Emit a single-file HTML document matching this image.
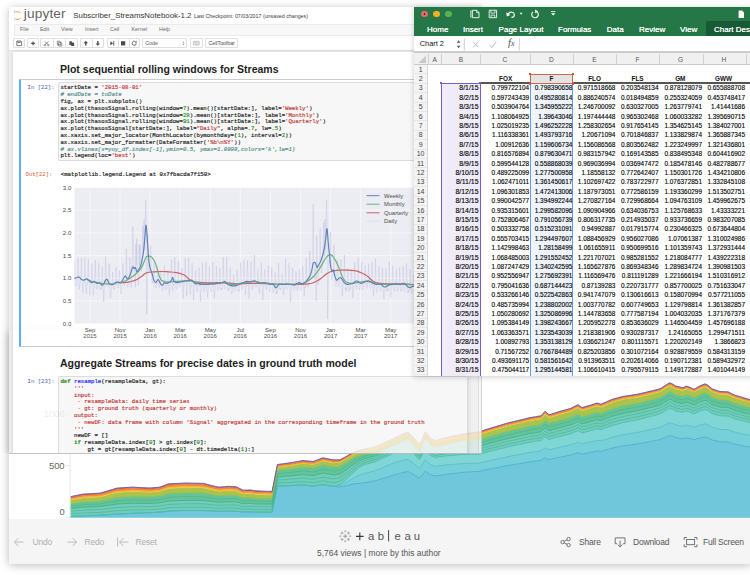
<!DOCTYPE html>
<html><head><meta charset="utf-8"><title>screenshot</title><style>
html,body{margin:0;padding:0;background:#fff;}
html{overflow:hidden}
body{width:750px;height:575px;overflow:hidden;position:relative;font-family:"Liberation Sans",sans-serif;}
#root{position:absolute;left:0;top:0;width:750px;height:575px;overflow:hidden;background:#fff}
.abs{position:absolute}
#tab{position:absolute;left:9px;top:330px;width:742px;height:234.2px;background:#fff;box-shadow:0 1px 9px rgba(0,0,0,.28);z-index:1;overflow:visible}
#tab > *{position:absolute}
.t-bar{left:0;top:189px;width:742px;height:45.2px;background:#f5f5f5}
#jup{position:absolute;left:9px;top:7px;width:473px;height:446.5px;background:#fff;z-index:2;overflow:hidden;opacity:.88;border-bottom:1px solid #bbb;border-right:1px solid #ccc;box-sizing:border-box}
#jup > *{position:absolute}
#jupshadow{position:absolute;left:9px;top:7px;width:473px;height:446px;box-shadow:0 1px 8px rgba(0,0,0,.24);z-index:1;clip-path:inset(-14px 0 0 -14px)}
.j-head{left:0;top:0;width:473px;height:43px;background:#fff;border-bottom:1px solid #e3e3e3}
.j-body{left:0;top:43.6px;width:473px;height:410px;background:#eeeeee}
.j-nb{left:4.3px;top:45.4px;width:454.6px;height:410px;background:#fff;box-shadow:0 0 4px rgba(87,87,87,.25)}
.j-scroll{left:469px;top:43.6px;width:4px;height:410px;background:#f7f7f7;border-left:1px solid #dcdcdc}
.j-btn{top:31.4px;height:9.4px;border:.8px solid #dcdcdc;border-radius:1px;background:#fff;box-sizing:border-box}
.j-prompt{font-family:"Liberation Mono",monospace;font-size:5.63px;line-height:6.8px;white-space:pre}
.j-in{background:#f7f7f7;border:.8px solid #d9d9d9;border-radius:1px;box-sizing:border-box}
.j-code{margin:0;font-family:"Liberation Mono",monospace;font-size:5.68px;line-height:6.8px;color:#000;white-space:pre;-webkit-text-stroke:.18px}
.j-code .s{color:#ba2121}.j-code .c{color:#408080;font-style:italic}.j-code .n{color:#008800}.j-code .k{color:#008000;font-weight:bold}.j-code .f{color:#0000ff}
#excel{position:absolute;left:414px;top:7px;width:340px;height:368.6px;background:#fff;z-index:3;box-shadow:0 1px 6px rgba(0,0,0,.2);overflow:hidden}
#excel > *{position:absolute}
.xl-green{left:0;top:0;width:340px;height:28.6px;background:#257748}
.xl-tabsel{left:292px;top:13.8px;width:50px;height:14.8px;background:#185a36;border-radius:2px 0 0 0}
.tl{top:3.7px;width:6.6px;height:6.6px;border-radius:50%}
.xl-tab{top:18.1px;font-size:8px;line-height:9px;color:#fff;white-space:nowrap;text-shadow:0 0 .4px #fff}
.xl-fbar{left:0;top:28.6px;width:340px;height:16px;background:#fff;border-bottom:1px solid #cfcfcf;box-sizing:border-box}
.xl-colhdr{left:0;top:44.6px;width:340px;height:13.8px;background:#f0f0f0;border-top:1.2px solid #c9c9d0;border-bottom:1px solid #cacaca;box-sizing:border-box}
.xl-cl{top:48.6px;width:20px;text-align:center;font-size:6.6px;line-height:8px;color:#555}
.xl-rn{left:0;width:13.2px;height:9.4px;line-height:9.6px;text-align:center;font-size:7px;color:#444}
.xl-c{height:9.39px;line-height:9.9px;text-align:right;font-size:6.45px;color:#000;white-space:nowrap;-webkit-text-stroke:.12px}
.xl-h{width:40px;height:9.39px;line-height:9.9px;text-align:center;font-size:6.4px;font-weight:bold;color:#111}
</style></head>
<body><div id="root">
<div id="tab">
<svg class="abs" style="left:0;top:0" width="742" height="200" viewBox="9 330 742 200">
<path d="M70.0 516.5L76.5 516.2L83.0 515.9L91.5 515.6L100.0 515.2L108.5 514.7L117.0 514.1L125.0 513.7L133.0 513.3L141.5 513.0L150.0 512.7L155.0 512.4L160.0 512.1L164.3 511.7L168.7 511.1L177.3 510.7L186.0 510.5L194.7 510.5L203.3 510.5L207.7 510.8L212.0 511.0L215.5 511.2L219.0 511.3L224.2 511.2L229.3 511.1L232.8 511.2L236.3 511.3L239.8 511.6L243.2 512.0L246.6 511.9L250.0 511.9L253.5 512.0L257.0 512.1L264.6 512.2L272.1 512.2L277.4 485.9L283.7 485.7L290.0 485.6L296.5 485.3L303.0 485.0L308.0 485.6L313.0 486.2L318.0 485.4L323.0 484.7L328.0 485.6L333.0 486.4L336.5 486.7L340.0 487.0L347.5 485.4L355.0 483.7L360.0 483.4L365.0 482.7L370.0 481.8L375.0 480.9L380.0 479.4L385.0 477.8L390.0 476.2L395.0 474.7L399.5 473.5L404.0 472.3L408.0 471.6L413.0 474.1L416.2 476.2L419.5 478.3L425.5 471.1L430.5 474.9L435.5 476.0L441.0 475.1L447.0 474.2L455.0 473.3L463.0 472.4L471.5 471.8L480.0 471.3L485.0 470.0L496.0 467.9L507.0 465.7L518.5 463.8L530.0 461.8L535.5 461.1L541.0 460.4L545.0 457.7L549.0 459.5L554.5 458.3L560.0 457.1L565.5 456.1L571.0 455.0L574.5 453.8L578.0 452.6L582.0 454.2L586.0 453.4L590.0 452.5L593.5 451.7L597.0 450.9L601.0 451.5L606.5 449.8L612.0 448.2L617.5 447.1L623.0 445.9L630.5 444.9L638.0 443.9L644.0 442.8L650.0 441.6L655.0 440.7L660.0 439.7L664.8 437.6L669.5 435.5L673.0 436.4L675.0 437.4L679.0 438.1L683.0 438.8L686.0 437.8L690.0 438.6L694.0 439.9L700.0 437.9L705.0 436.8L708.0 437.8L712.0 440.0L716.0 440.9L720.0 441.8L724.0 441.9L728.0 442.1L731.5 443.2L735.0 444.3L738.5 444.9L742.0 445.6L746.5 446.5L751.0 447.3L751.0 517.7L746.5 517.7L742.0 517.7L738.5 517.7L735.0 517.7L731.5 517.7L728.0 517.7L724.0 517.7L720.0 517.7L716.0 517.7L712.0 517.7L708.0 517.7L705.0 517.7L700.0 517.7L694.0 517.7L690.0 517.7L686.0 517.7L683.0 517.7L679.0 517.7L675.0 517.7L673.0 517.7L669.5 517.7L664.8 517.7L660.0 517.7L655.0 517.7L650.0 517.7L644.0 517.7L638.0 517.7L630.5 517.7L623.0 517.7L617.5 517.7L612.0 517.7L606.5 517.7L601.0 517.7L597.0 517.7L593.5 517.7L590.0 517.7L586.0 517.7L582.0 517.7L578.0 517.7L574.5 517.7L571.0 517.7L565.5 517.7L560.0 517.7L554.5 517.7L549.0 517.7L545.0 517.7L541.0 517.7L535.5 517.7L530.0 517.7L518.5 517.7L507.0 517.7L496.0 517.7L485.0 517.7L480.0 517.7L471.5 517.7L463.0 517.7L455.0 517.7L447.0 517.7L441.0 517.7L435.5 517.7L430.5 517.7L425.5 517.7L419.5 517.7L416.2 517.7L413.0 517.7L408.0 517.7L404.0 517.7L399.5 517.7L395.0 517.7L390.0 517.7L385.0 517.7L380.0 517.7L375.0 517.7L370.0 517.7L365.0 517.7L360.0 517.7L355.0 517.7L347.5 517.7L340.0 517.7L336.5 517.7L333.0 517.7L328.0 517.7L323.0 517.7L318.0 517.7L313.0 517.7L308.0 517.7L303.0 517.7L296.5 517.7L290.0 517.7L283.7 517.7L277.4 517.7L272.1 517.7L264.6 517.7L257.0 517.7L253.5 517.7L250.0 517.7L246.6 517.7L243.2 517.7L239.8 517.7L236.3 517.7L232.8 517.7L229.3 517.7L224.2 517.7L219.0 517.7L215.5 517.7L212.0 517.7L207.7 517.7L203.3 517.7L194.7 517.7L186.0 517.7L177.3 517.7L168.7 517.7L164.3 517.7L160.0 517.7L155.0 517.7L150.0 517.7L141.5 517.7L133.0 517.7L125.0 517.7L117.0 517.7L108.5 517.7L100.0 517.7L91.5 517.7L83.0 517.7L76.5 517.7L70.0 517.7Z" fill="#70c7dc" stroke="#70c7dc" stroke-width=".3"/>
<path d="M70.0 516.5L76.5 516.2L83.0 515.9L91.5 515.6L100.0 515.2L108.5 514.7L117.0 514.1L125.0 513.7L133.0 513.3L141.5 513.0L150.0 512.7L155.0 512.4L160.0 512.1L164.3 511.7L168.7 511.1L177.3 510.7L186.0 510.5L194.7 510.5L203.3 510.5L207.7 510.8L212.0 511.0L215.5 511.2L219.0 511.3L224.2 511.2L229.3 511.1L232.8 511.2L236.3 511.3L239.8 511.6L243.2 512.0L246.6 511.9L250.0 511.9L253.5 512.0L257.0 512.1L264.6 512.2L272.1 512.2L277.4 485.9L283.7 485.7L290.0 485.6L296.5 485.3L303.0 485.0L308.0 485.6L313.0 486.2L318.0 485.4L323.0 484.7L328.0 485.6L333.0 486.4L336.5 486.2L340.0 485.5L347.5 481.5L355.0 477.1L360.0 475.0L365.0 473.3L370.0 472.1L375.0 470.8L380.0 468.8L385.0 466.7L390.0 464.5L395.0 462.5L399.5 461.2L404.0 460.0L408.0 459.3L413.0 462.8L416.2 465.6L419.5 468.4L425.5 459.8L430.5 464.8L435.5 466.4L441.0 465.6L447.0 464.9L455.0 464.2L463.0 463.5L471.5 463.3L480.0 463.2L485.0 461.7L496.0 459.3L507.0 456.8L518.5 454.6L530.0 452.4L535.5 451.6L541.0 450.9L545.0 447.8L549.0 449.9L554.5 448.6L560.0 447.2L565.5 446.0L571.0 444.8L574.5 443.5L578.0 442.1L582.0 444.0L586.0 443.0L590.0 442.1L593.5 441.2L597.0 440.3L601.0 440.9L606.5 439.1L612.0 437.3L617.5 436.0L623.0 434.7L630.5 433.5L638.0 432.3L644.0 431.0L650.0 429.7L655.0 428.5L660.0 427.4L664.8 425.0L669.5 422.6L673.0 423.6L675.0 424.7L679.0 425.5L683.0 426.3L686.0 425.0L690.0 426.0L694.0 427.5L700.0 425.1L705.0 423.8L708.0 424.9L712.0 427.4L716.0 428.4L720.0 429.4L724.0 429.6L728.0 429.7L731.5 431.0L735.0 432.2L738.5 433.0L742.0 433.8L746.5 434.7L751.0 435.6L751.0 447.3L746.5 446.5L742.0 445.6L738.5 444.9L735.0 444.3L731.5 443.2L728.0 442.1L724.0 441.9L720.0 441.8L716.0 440.9L712.0 440.0L708.0 437.8L705.0 436.8L700.0 437.9L694.0 439.9L690.0 438.6L686.0 437.8L683.0 438.8L679.0 438.1L675.0 437.4L673.0 436.4L669.5 435.5L664.8 437.6L660.0 439.7L655.0 440.7L650.0 441.6L644.0 442.8L638.0 443.9L630.5 444.9L623.0 445.9L617.5 447.1L612.0 448.2L606.5 449.8L601.0 451.5L597.0 450.9L593.5 451.7L590.0 452.5L586.0 453.4L582.0 454.2L578.0 452.6L574.5 453.8L571.0 455.0L565.5 456.1L560.0 457.1L554.5 458.3L549.0 459.5L545.0 457.7L541.0 460.4L535.5 461.1L530.0 461.8L518.5 463.8L507.0 465.7L496.0 467.9L485.0 470.0L480.0 471.3L471.5 471.8L463.0 472.4L455.0 473.3L447.0 474.2L441.0 475.1L435.5 476.0L430.5 474.9L425.5 471.1L419.5 478.3L416.2 476.2L413.0 474.1L408.0 471.6L404.0 472.3L399.5 473.5L395.0 474.7L390.0 476.2L385.0 477.8L380.0 479.4L375.0 480.9L370.0 481.8L365.0 482.7L360.0 483.4L355.0 483.7L347.5 485.4L340.0 487.0L336.5 486.7L333.0 486.4L328.0 485.6L323.0 484.7L318.0 485.4L313.0 486.2L308.0 485.6L303.0 485.0L296.5 485.3L290.0 485.6L283.7 485.7L277.4 485.9L272.1 512.2L264.6 512.2L257.0 512.1L253.5 512.0L250.0 511.9L246.6 511.9L243.2 512.0L239.8 511.6L236.3 511.3L232.8 511.2L229.3 511.1L224.2 511.2L219.0 511.3L215.5 511.2L212.0 511.0L207.7 510.8L203.3 510.5L194.7 510.5L186.0 510.5L177.3 510.7L168.7 511.1L164.3 511.7L160.0 512.1L155.0 512.4L150.0 512.7L141.5 513.0L133.0 513.3L125.0 513.7L117.0 514.1L108.5 514.7L100.0 515.2L91.5 515.6L83.0 515.9L76.5 516.2L70.0 516.5Z" fill="#77cfd9" stroke="#77cfd9" stroke-width=".3"/>
<path d="M70.0 516.5L76.5 516.2L83.0 515.9L91.5 515.6L100.0 515.2L108.5 514.7L117.0 514.1L125.0 513.7L133.0 513.3L141.5 513.0L150.0 512.7L155.0 512.4L160.0 512.1L164.3 511.7L168.7 511.1L177.3 510.7L186.0 510.5L194.7 510.5L203.3 510.5L207.7 510.8L212.0 511.0L215.5 511.2L219.0 511.3L224.2 511.2L229.3 511.1L232.8 511.2L236.3 511.3L239.8 511.6L243.2 512.0L246.6 511.9L250.0 511.9L253.5 512.0L257.0 512.1L264.6 512.2L272.1 512.2L277.4 485.9L283.7 485.7L290.0 485.6L296.5 485.3L303.0 485.0L308.0 485.6L313.0 486.2L318.0 485.4L323.0 484.7L328.0 485.6L333.0 486.4L336.5 485.9L340.0 484.4L347.5 478.2L355.0 471.0L360.0 466.9L365.0 464.4L370.0 463.1L375.0 461.8L380.0 459.5L385.0 457.2L390.0 454.8L395.0 452.6L399.5 451.1L404.0 449.7L408.0 448.9L413.0 453.1L416.2 456.4L419.5 459.7L425.5 449.7L430.5 455.6L435.5 457.5L441.0 456.6L447.0 455.8L455.0 455.1L463.0 454.4L471.5 454.3L480.0 454.2L485.0 452.6L496.0 449.8L507.0 447.1L518.5 444.6L530.0 442.2L535.5 441.3L541.0 440.5L545.0 436.9L549.0 439.5L554.5 437.9L560.0 436.4L565.5 435.1L571.0 433.8L574.5 432.2L578.0 430.7L582.0 432.9L586.0 431.9L590.0 430.8L593.5 429.8L597.0 428.8L601.0 429.6L606.5 427.5L612.0 425.5L617.5 424.1L623.0 422.6L630.5 421.2L638.0 419.7L644.0 418.2L650.0 416.6L655.0 415.3L660.0 413.9L664.8 411.1L669.5 408.3L673.0 409.4L675.0 410.7L679.0 411.6L683.0 412.4L686.0 411.0L690.0 412.1L694.0 413.8L700.0 411.0L705.0 409.4L708.0 410.7L712.0 413.5L716.0 414.7L720.0 415.8L724.0 415.9L728.0 416.1L731.5 417.5L735.0 418.9L738.5 419.8L742.0 420.7L746.5 421.7L751.0 422.8L751.0 435.6L746.5 434.7L742.0 433.8L738.5 433.0L735.0 432.2L731.5 431.0L728.0 429.7L724.0 429.6L720.0 429.4L716.0 428.4L712.0 427.4L708.0 424.9L705.0 423.8L700.0 425.1L694.0 427.5L690.0 426.0L686.0 425.0L683.0 426.3L679.0 425.5L675.0 424.7L673.0 423.6L669.5 422.6L664.8 425.0L660.0 427.4L655.0 428.5L650.0 429.7L644.0 431.0L638.0 432.3L630.5 433.5L623.0 434.7L617.5 436.0L612.0 437.3L606.5 439.1L601.0 440.9L597.0 440.3L593.5 441.2L590.0 442.1L586.0 443.0L582.0 444.0L578.0 442.1L574.5 443.5L571.0 444.8L565.5 446.0L560.0 447.2L554.5 448.6L549.0 449.9L545.0 447.8L541.0 450.9L535.5 451.6L530.0 452.4L518.5 454.6L507.0 456.8L496.0 459.3L485.0 461.7L480.0 463.2L471.5 463.3L463.0 463.5L455.0 464.2L447.0 464.9L441.0 465.6L435.5 466.4L430.5 464.8L425.5 459.8L419.5 468.4L416.2 465.6L413.0 462.8L408.0 459.3L404.0 460.0L399.5 461.2L395.0 462.5L390.0 464.5L385.0 466.7L380.0 468.8L375.0 470.8L370.0 472.1L365.0 473.3L360.0 475.0L355.0 477.1L347.5 481.5L340.0 485.5L336.5 486.2L333.0 486.4L328.0 485.6L323.0 484.7L318.0 485.4L313.0 486.2L308.0 485.6L303.0 485.0L296.5 485.3L290.0 485.6L283.7 485.7L277.4 485.9L272.1 512.2L264.6 512.2L257.0 512.1L253.5 512.0L250.0 511.9L246.6 511.9L243.2 512.0L239.8 511.6L236.3 511.3L232.8 511.2L229.3 511.1L224.2 511.2L219.0 511.3L215.5 511.2L212.0 511.0L207.7 510.8L203.3 510.5L194.7 510.5L186.0 510.5L177.3 510.7L168.7 511.1L164.3 511.7L160.0 512.1L155.0 512.4L150.0 512.7L141.5 513.0L133.0 513.3L125.0 513.7L117.0 514.1L108.5 514.7L100.0 515.2L91.5 515.6L83.0 515.9L76.5 516.2L70.0 516.5Z" fill="#80d6d5" stroke="#80d6d5" stroke-width=".3"/>
<path d="M70.0 508.6L76.5 507.9L83.0 507.2L91.5 506.9L100.0 506.6L108.5 505.3L117.0 504.0L125.0 503.6L133.0 503.3L141.5 503.4L150.0 503.4L155.0 503.1L160.0 502.8L164.3 501.9L168.7 501.1L177.3 500.7L186.0 500.4L194.7 500.4L203.3 500.4L207.7 501.0L212.0 501.6L215.5 501.9L219.0 502.2L224.2 502.0L229.3 501.7L232.8 501.8L236.3 501.9L239.8 502.8L243.2 503.6L246.6 503.5L250.0 503.4L253.5 503.7L257.0 503.9L264.6 504.0L272.1 504.1L277.4 476.9L283.7 476.4L290.0 475.9L296.5 475.3L303.0 474.6L308.0 475.1L313.0 475.6L318.0 474.4L323.0 473.1L328.0 474.0L333.0 474.9L336.5 474.7L340.0 474.0L347.5 469.0L355.0 463.2L360.0 460.3L365.0 458.3L370.0 457.2L375.0 456.0L380.0 453.8L385.0 451.5L390.0 449.2L395.0 447.0L399.5 445.3L404.0 443.6L408.0 442.6L413.0 447.0L416.2 450.6L419.5 454.2L425.5 443.0L430.5 449.3L435.5 451.3L441.0 450.2L447.0 449.1L455.0 448.1L463.0 447.1L471.5 446.7L480.0 446.3L485.0 444.6L496.0 441.6L507.0 438.7L518.5 436.1L530.0 433.5L535.5 432.6L541.0 431.8L545.0 427.9L549.0 430.8L554.5 429.2L560.0 427.6L565.5 426.2L571.0 424.8L574.5 423.1L578.0 421.5L582.0 423.9L586.0 422.9L590.0 421.8L593.5 420.7L597.0 419.7L601.0 420.6L606.5 418.4L612.0 416.2L617.5 414.8L623.0 413.3L630.5 412.0L638.0 410.6L644.0 409.1L650.0 407.6L655.0 406.3L660.0 404.9L664.8 402.1L669.5 399.2L673.0 400.4L675.0 401.8L679.0 402.7L683.0 403.7L686.0 402.1L690.0 403.3L694.0 405.0L700.0 402.0L705.0 400.3L708.0 401.6L712.0 404.7L716.0 405.9L720.0 407.1L724.0 407.3L728.0 407.4L731.5 409.0L735.0 410.5L738.5 411.4L742.0 412.4L746.5 413.5L751.0 414.6L751.0 422.8L746.5 421.7L742.0 420.7L738.5 419.8L735.0 418.9L731.5 417.5L728.0 416.1L724.0 415.9L720.0 415.8L716.0 414.7L712.0 413.5L708.0 410.7L705.0 409.4L700.0 411.0L694.0 413.8L690.0 412.1L686.0 411.0L683.0 412.4L679.0 411.6L675.0 410.7L673.0 409.4L669.5 408.3L664.8 411.1L660.0 413.9L655.0 415.3L650.0 416.6L644.0 418.2L638.0 419.7L630.5 421.2L623.0 422.6L617.5 424.1L612.0 425.5L606.5 427.5L601.0 429.6L597.0 428.8L593.5 429.8L590.0 430.8L586.0 431.9L582.0 432.9L578.0 430.7L574.5 432.2L571.0 433.8L565.5 435.1L560.0 436.4L554.5 437.9L549.0 439.5L545.0 436.9L541.0 440.5L535.5 441.3L530.0 442.2L518.5 444.6L507.0 447.1L496.0 449.8L485.0 452.6L480.0 454.2L471.5 454.3L463.0 454.4L455.0 455.1L447.0 455.8L441.0 456.6L435.5 457.5L430.5 455.6L425.5 449.7L419.5 459.7L416.2 456.4L413.0 453.1L408.0 448.9L404.0 449.7L399.5 451.1L395.0 452.6L390.0 454.8L385.0 457.2L380.0 459.5L375.0 461.8L370.0 463.1L365.0 464.4L360.0 466.9L355.0 471.0L347.5 478.2L340.0 484.4L336.5 485.9L333.0 486.4L328.0 485.6L323.0 484.7L318.0 485.4L313.0 486.2L308.0 485.6L303.0 485.0L296.5 485.3L290.0 485.6L283.7 485.7L277.4 485.9L272.1 512.2L264.6 512.2L257.0 512.1L253.5 512.0L250.0 511.9L246.6 511.9L243.2 512.0L239.8 511.6L236.3 511.3L232.8 511.2L229.3 511.1L224.2 511.2L219.0 511.3L215.5 511.2L212.0 511.0L207.7 510.8L203.3 510.5L194.7 510.5L186.0 510.5L177.3 510.7L168.7 511.1L164.3 511.7L160.0 512.1L155.0 512.4L150.0 512.7L141.5 513.0L133.0 513.3L125.0 513.7L117.0 514.1L108.5 514.7L100.0 515.2L91.5 515.6L83.0 515.9L76.5 516.2L70.0 516.5Z" fill="#70cdbb" stroke="#70cdbb" stroke-width=".3"/>
<path d="M70.0 504.0L76.5 503.1L83.0 502.1L91.5 501.6L100.0 501.2L108.5 499.4L117.0 497.5L125.0 497.1L133.0 496.6L141.5 496.8L150.0 496.9L155.0 496.5L160.0 496.1L164.3 494.9L168.7 493.6L177.3 493.2L186.0 492.9L194.7 493.0L203.3 493.1L207.7 493.9L212.0 494.8L215.5 495.3L219.0 495.8L224.2 495.5L229.3 495.2L232.8 495.4L236.3 495.6L239.8 496.8L243.2 498.0L246.6 497.9L250.0 497.8L253.5 498.2L257.0 498.5L264.6 498.7L272.1 498.9L277.4 470.5L283.7 469.8L290.0 469.1L296.5 468.2L303.0 467.2L308.0 467.7L313.0 468.2L318.0 466.6L323.0 465.0L328.0 466.0L333.0 466.9L336.5 466.8L340.0 466.3L347.5 461.7L355.0 457.1L360.0 455.2L365.0 453.6L370.0 452.5L375.0 451.5L380.0 449.3L385.0 447.0L390.0 444.8L395.0 442.6L399.5 440.6L404.0 438.7L408.0 437.6L413.0 442.2L416.2 445.9L419.5 449.7L425.5 437.5L430.5 444.2L435.5 446.2L441.0 444.9L447.0 443.6L455.0 442.3L463.0 441.0L471.5 440.3L480.0 439.7L485.0 437.8L496.0 434.7L507.0 431.6L518.5 429.0L530.0 426.3L535.5 425.5L541.0 424.6L545.0 420.4L549.0 423.6L554.5 421.9L560.0 420.3L565.5 418.9L571.0 417.4L574.5 415.7L578.0 414.0L582.0 416.7L586.0 415.6L590.0 414.5L593.5 413.4L597.0 412.3L601.0 413.4L606.5 411.1L612.0 408.8L617.5 407.4L623.0 405.9L630.5 404.6L638.0 403.3L644.0 401.8L650.0 400.3L655.0 399.0L660.0 397.6L664.8 394.7L669.5 391.7L673.0 393.0L675.0 394.5L679.0 395.5L683.0 396.4L686.0 394.7L690.0 396.0L694.0 397.8L700.0 394.6L705.0 392.7L708.0 394.1L712.0 397.4L716.0 398.7L720.0 400.0L724.0 400.1L728.0 400.3L731.5 401.9L735.0 403.5L738.5 404.5L742.0 405.5L746.5 406.6L751.0 407.8L751.0 414.6L746.5 413.5L742.0 412.4L738.5 411.4L735.0 410.5L731.5 409.0L728.0 407.4L724.0 407.3L720.0 407.1L716.0 405.9L712.0 404.7L708.0 401.6L705.0 400.3L700.0 402.0L694.0 405.0L690.0 403.3L686.0 402.1L683.0 403.7L679.0 402.7L675.0 401.8L673.0 400.4L669.5 399.2L664.8 402.1L660.0 404.9L655.0 406.3L650.0 407.6L644.0 409.1L638.0 410.6L630.5 412.0L623.0 413.3L617.5 414.8L612.0 416.2L606.5 418.4L601.0 420.6L597.0 419.7L593.5 420.7L590.0 421.8L586.0 422.9L582.0 423.9L578.0 421.5L574.5 423.1L571.0 424.8L565.5 426.2L560.0 427.6L554.5 429.2L549.0 430.8L545.0 427.9L541.0 431.8L535.5 432.6L530.0 433.5L518.5 436.1L507.0 438.7L496.0 441.6L485.0 444.6L480.0 446.3L471.5 446.7L463.0 447.1L455.0 448.1L447.0 449.1L441.0 450.2L435.5 451.3L430.5 449.3L425.5 443.0L419.5 454.2L416.2 450.6L413.0 447.0L408.0 442.6L404.0 443.6L399.5 445.3L395.0 447.0L390.0 449.2L385.0 451.5L380.0 453.8L375.0 456.0L370.0 457.2L365.0 458.3L360.0 460.3L355.0 463.2L347.5 469.0L340.0 474.0L336.5 474.7L333.0 474.9L328.0 474.0L323.0 473.1L318.0 474.4L313.0 475.6L308.0 475.1L303.0 474.6L296.5 475.3L290.0 475.9L283.7 476.4L277.4 476.9L272.1 504.1L264.6 504.0L257.0 503.9L253.5 503.7L250.0 503.4L246.6 503.5L243.2 503.6L239.8 502.8L236.3 501.9L232.8 501.8L229.3 501.7L224.2 502.0L219.0 502.2L215.5 501.9L212.0 501.6L207.7 501.0L203.3 500.4L194.7 500.4L186.0 500.4L177.3 500.7L168.7 501.1L164.3 501.9L160.0 502.8L155.0 503.1L150.0 503.4L141.5 503.4L133.0 503.3L125.0 503.6L117.0 504.0L108.5 505.3L100.0 506.6L91.5 506.9L83.0 507.2L76.5 507.9L70.0 508.6Z" fill="#63c49a" stroke="#63c49a" stroke-width=".3"/>
<path d="M70.0 500.3L76.5 499.1L83.0 498.0L91.5 497.5L100.0 497.0L108.5 494.8L117.0 492.6L125.0 492.1L133.0 491.6L141.5 492.0L150.0 492.3L155.0 491.8L160.0 491.4L164.3 490.0L168.7 488.5L177.3 488.1L186.0 487.7L194.7 487.8L203.3 487.9L207.7 489.0L212.0 490.0L215.5 490.6L219.0 491.3L224.2 490.9L229.3 490.6L232.8 490.8L236.3 491.0L239.8 492.5L243.2 493.9L246.6 493.8L250.0 493.7L253.5 494.1L257.0 494.6L264.6 494.8L272.1 495.0L277.4 467.4L283.7 466.5L290.0 465.7L296.5 464.6L303.0 463.6L308.0 464.0L313.0 464.5L318.0 462.7L323.0 461.0L328.0 461.9L333.0 462.9L336.5 462.8L340.0 462.6L347.5 458.2L355.0 453.9L360.0 452.3L365.0 450.9L370.0 449.8L375.0 448.7L380.0 446.3L385.0 444.0L390.0 441.7L395.0 439.4L399.5 437.3L404.0 435.2L408.0 434.0L413.0 438.7L416.2 442.5L419.5 446.4L425.5 433.6L430.5 440.5L435.5 442.5L441.0 441.0L447.0 439.6L455.0 438.0L463.0 436.5L471.5 435.7L480.0 434.8L485.0 432.9L496.0 429.6L507.0 426.3L518.5 423.6L530.0 420.8L535.5 419.9L541.0 418.9L545.0 414.5L549.0 417.9L554.5 416.2L560.0 414.4L565.5 412.9L571.0 411.4L574.5 409.6L578.0 407.8L582.0 410.7L586.0 409.5L590.0 408.4L593.5 407.2L597.0 406.1L601.0 407.2L606.5 404.9L612.0 402.5L617.5 401.0L623.0 399.5L630.5 398.3L638.0 397.2L644.0 395.8L650.0 394.4L655.0 393.1L660.0 391.9L664.8 388.9L669.5 385.9L673.0 387.3L675.0 388.9L679.0 389.9L683.0 390.8L686.0 389.1L690.0 390.3L694.0 392.3L700.0 388.9L705.0 386.9L708.0 388.4L712.0 391.8L716.0 393.1L720.0 394.4L724.0 394.6L728.0 394.7L731.5 396.4L735.0 398.1L738.5 399.1L742.0 400.1L746.5 401.3L751.0 402.6L751.0 407.8L746.5 406.6L742.0 405.5L738.5 404.5L735.0 403.5L731.5 401.9L728.0 400.3L724.0 400.1L720.0 400.0L716.0 398.7L712.0 397.4L708.0 394.1L705.0 392.7L700.0 394.6L694.0 397.8L690.0 396.0L686.0 394.7L683.0 396.4L679.0 395.5L675.0 394.5L673.0 393.0L669.5 391.7L664.8 394.7L660.0 397.6L655.0 399.0L650.0 400.3L644.0 401.8L638.0 403.3L630.5 404.6L623.0 405.9L617.5 407.4L612.0 408.8L606.5 411.1L601.0 413.4L597.0 412.3L593.5 413.4L590.0 414.5L586.0 415.6L582.0 416.7L578.0 414.0L574.5 415.7L571.0 417.4L565.5 418.9L560.0 420.3L554.5 421.9L549.0 423.6L545.0 420.4L541.0 424.6L535.5 425.5L530.0 426.3L518.5 429.0L507.0 431.6L496.0 434.7L485.0 437.8L480.0 439.7L471.5 440.3L463.0 441.0L455.0 442.3L447.0 443.6L441.0 444.9L435.5 446.2L430.5 444.2L425.5 437.5L419.5 449.7L416.2 445.9L413.0 442.2L408.0 437.6L404.0 438.7L399.5 440.6L395.0 442.6L390.0 444.8L385.0 447.0L380.0 449.3L375.0 451.5L370.0 452.5L365.0 453.6L360.0 455.2L355.0 457.1L347.5 461.7L340.0 466.3L336.5 466.8L333.0 466.9L328.0 466.0L323.0 465.0L318.0 466.6L313.0 468.2L308.0 467.7L303.0 467.2L296.5 468.2L290.0 469.1L283.7 469.8L277.4 470.5L272.1 498.9L264.6 498.7L257.0 498.5L253.5 498.2L250.0 497.8L246.6 497.9L243.2 498.0L239.8 496.8L236.3 495.6L232.8 495.4L229.3 495.2L224.2 495.5L219.0 495.8L215.5 495.3L212.0 494.8L207.7 493.9L203.3 493.1L194.7 493.0L186.0 492.9L177.3 493.2L168.7 493.6L164.3 494.9L160.0 496.1L155.0 496.5L150.0 496.9L141.5 496.8L133.0 496.6L125.0 497.1L117.0 497.5L108.5 499.4L100.0 501.2L91.5 501.6L83.0 502.1L76.5 503.1L70.0 504.0Z" fill="#a9c44c" stroke="#a9c44c" stroke-width=".3"/>
<path d="M70.0 499.3L76.5 498.0L83.0 496.8L91.5 496.3L100.0 495.8L108.5 493.5L117.0 491.2L125.0 490.7L133.0 490.2L141.5 490.6L150.0 490.9L155.0 490.5L160.0 490.0L164.3 488.5L168.7 487.0L177.3 486.5L186.0 486.1L194.7 486.3L203.3 486.4L207.7 487.5L212.0 488.6L215.5 489.2L219.0 489.9L224.2 489.5L229.3 489.2L232.8 489.4L236.3 489.6L239.8 491.2L243.2 492.7L246.6 492.6L250.0 492.4L253.5 492.9L257.0 493.4L264.6 493.6L272.1 493.8L277.4 466.6L283.7 465.7L290.0 464.9L296.5 463.8L303.0 462.7L308.0 463.2L313.0 463.7L318.0 461.9L323.0 460.1L328.0 461.1L333.0 462.0L336.5 462.0L340.0 461.8L347.5 457.4L355.0 453.1L360.0 451.6L365.0 450.2L370.0 449.1L375.0 448.1L380.0 445.8L385.0 443.5L390.0 441.2L395.0 438.9L399.5 436.8L404.0 434.6L408.0 433.4L413.0 438.1L416.2 441.9L419.5 445.8L425.5 432.9L430.5 439.8L435.5 441.8L441.0 440.3L447.0 438.8L455.0 437.2L463.0 435.6L471.5 434.7L480.0 433.8L485.0 431.8L496.0 428.5L507.0 425.3L518.5 422.5L530.0 419.7L535.5 418.8L541.0 417.9L545.0 413.4L549.0 416.8L554.5 415.1L560.0 413.4L565.5 411.9L571.0 410.4L574.5 408.5L578.0 406.7L582.0 409.6L586.0 408.5L590.0 407.3L593.5 406.2L597.0 405.0L601.0 406.2L606.5 403.8L612.0 401.4L617.5 399.9L623.0 398.4L630.5 397.2L638.0 396.1L644.0 394.7L650.0 393.3L655.0 392.1L660.0 390.8L664.8 387.8L669.5 384.9L673.0 386.3L675.0 387.8L679.0 388.8L683.0 389.8L686.0 388.0L690.0 389.3L694.0 391.3L700.0 387.8L705.0 385.9L708.0 387.3L712.0 390.8L716.0 392.1L720.0 393.5L724.0 393.6L728.0 393.7L731.5 395.4L735.0 397.1L738.5 398.1L742.0 399.2L746.5 400.4L751.0 401.6L751.0 402.6L746.5 401.3L742.0 400.1L738.5 399.1L735.0 398.1L731.5 396.4L728.0 394.7L724.0 394.6L720.0 394.4L716.0 393.1L712.0 391.8L708.0 388.4L705.0 386.9L700.0 388.9L694.0 392.3L690.0 390.3L686.0 389.1L683.0 390.8L679.0 389.9L675.0 388.9L673.0 387.3L669.5 385.9L664.8 388.9L660.0 391.9L655.0 393.1L650.0 394.4L644.0 395.8L638.0 397.2L630.5 398.3L623.0 399.5L617.5 401.0L612.0 402.5L606.5 404.9L601.0 407.2L597.0 406.1L593.5 407.2L590.0 408.4L586.0 409.5L582.0 410.7L578.0 407.8L574.5 409.6L571.0 411.4L565.5 412.9L560.0 414.4L554.5 416.2L549.0 417.9L545.0 414.5L541.0 418.9L535.5 419.9L530.0 420.8L518.5 423.6L507.0 426.3L496.0 429.6L485.0 432.9L480.0 434.8L471.5 435.7L463.0 436.5L455.0 438.0L447.0 439.6L441.0 441.0L435.5 442.5L430.5 440.5L425.5 433.6L419.5 446.4L416.2 442.5L413.0 438.7L408.0 434.0L404.0 435.2L399.5 437.3L395.0 439.4L390.0 441.7L385.0 444.0L380.0 446.3L375.0 448.7L370.0 449.8L365.0 450.9L360.0 452.3L355.0 453.9L347.5 458.2L340.0 462.6L336.5 462.8L333.0 462.9L328.0 461.9L323.0 461.0L318.0 462.7L313.0 464.5L308.0 464.0L303.0 463.6L296.5 464.6L290.0 465.7L283.7 466.5L277.4 467.4L272.1 495.0L264.6 494.8L257.0 494.6L253.5 494.1L250.0 493.7L246.6 493.8L243.2 493.9L239.8 492.5L236.3 491.0L232.8 490.8L229.3 490.6L224.2 490.9L219.0 491.3L215.5 490.6L212.0 490.0L207.7 489.0L203.3 487.9L194.7 487.8L186.0 487.7L177.3 488.1L168.7 488.5L164.3 490.0L160.0 491.4L155.0 491.8L150.0 492.3L141.5 492.0L133.0 491.6L125.0 492.1L117.0 492.6L108.5 494.8L100.0 497.0L91.5 497.5L83.0 498.0L76.5 499.1L70.0 500.3Z" fill="#f0c232" stroke="#f0c232" stroke-width=".3"/>
<path d="M70.0 497.8L76.5 496.5L83.0 495.2L91.5 494.7L100.0 494.2L108.5 491.8L117.0 489.4L125.0 488.8L133.0 488.3L141.5 488.8L150.0 489.2L155.0 488.7L160.0 488.3L164.3 486.7L168.7 485.0L177.3 484.6L186.0 484.2L194.7 484.4L203.3 484.5L207.7 485.7L212.0 486.9L215.5 487.5L219.0 488.2L224.2 487.8L229.3 487.4L232.8 487.7L236.3 487.9L239.8 489.6L243.2 491.2L246.6 491.1L250.0 490.9L253.5 491.4L257.0 491.9L264.6 492.1L272.1 492.4L277.4 465.4L283.7 464.6L290.0 463.7L296.5 462.6L303.0 461.4L308.0 461.9L313.0 462.4L318.0 460.6L323.0 458.8L328.0 459.8L333.0 460.8L336.5 460.7L340.0 460.7L347.5 456.4L355.0 452.2L360.0 450.8L365.0 449.4L370.0 448.4L375.0 447.4L380.0 445.1L385.0 442.8L390.0 440.6L395.0 438.3L399.5 436.1L404.0 434.0L408.0 432.7L413.0 437.4L416.2 441.3L419.5 445.2L425.5 432.0L430.5 439.0L435.5 441.0L441.0 439.4L447.0 437.9L455.0 436.2L463.0 434.5L471.5 433.6L480.0 432.6L485.0 430.6L496.0 427.3L507.0 424.0L518.5 421.2L530.0 418.4L535.5 417.5L541.0 416.6L545.0 412.1L549.0 415.6L554.5 413.9L560.0 412.1L565.5 410.6L571.0 409.1L574.5 407.3L578.0 405.4L582.0 408.4L586.0 407.3L590.0 406.1L593.5 405.0L597.0 403.8L601.0 405.0L606.5 402.6L612.0 400.2L617.5 398.7L623.0 397.2L630.5 396.1L638.0 394.9L644.0 393.5L650.0 392.1L655.0 390.9L660.0 389.6L664.8 386.7L669.5 383.7L673.0 385.1L675.0 386.7L679.0 387.6L683.0 388.6L686.0 386.9L690.0 388.1L694.0 390.1L700.0 386.7L705.0 384.7L708.0 386.2L712.0 389.6L716.0 391.0L720.0 392.3L724.0 392.5L728.0 392.6L731.5 394.3L735.0 396.0L738.5 397.1L742.0 398.1L746.5 399.3L751.0 400.6L751.0 401.6L746.5 400.4L742.0 399.2L738.5 398.1L735.0 397.1L731.5 395.4L728.0 393.7L724.0 393.6L720.0 393.5L716.0 392.1L712.0 390.8L708.0 387.3L705.0 385.9L700.0 387.8L694.0 391.3L690.0 389.3L686.0 388.0L683.0 389.8L679.0 388.8L675.0 387.8L673.0 386.3L669.5 384.9L664.8 387.8L660.0 390.8L655.0 392.1L650.0 393.3L644.0 394.7L638.0 396.1L630.5 397.2L623.0 398.4L617.5 399.9L612.0 401.4L606.5 403.8L601.0 406.2L597.0 405.0L593.5 406.2L590.0 407.3L586.0 408.5L582.0 409.6L578.0 406.7L574.5 408.5L571.0 410.4L565.5 411.9L560.0 413.4L554.5 415.1L549.0 416.8L545.0 413.4L541.0 417.9L535.5 418.8L530.0 419.7L518.5 422.5L507.0 425.3L496.0 428.5L485.0 431.8L480.0 433.8L471.5 434.7L463.0 435.6L455.0 437.2L447.0 438.8L441.0 440.3L435.5 441.8L430.5 439.8L425.5 432.9L419.5 445.8L416.2 441.9L413.0 438.1L408.0 433.4L404.0 434.6L399.5 436.8L395.0 438.9L390.0 441.2L385.0 443.5L380.0 445.8L375.0 448.1L370.0 449.1L365.0 450.2L360.0 451.6L355.0 453.1L347.5 457.4L340.0 461.8L336.5 462.0L333.0 462.0L328.0 461.1L323.0 460.1L318.0 461.9L313.0 463.7L308.0 463.2L303.0 462.7L296.5 463.8L290.0 464.9L283.7 465.7L277.4 466.6L272.1 493.8L264.6 493.6L257.0 493.4L253.5 492.9L250.0 492.4L246.6 492.6L243.2 492.7L239.8 491.2L236.3 489.6L232.8 489.4L229.3 489.2L224.2 489.5L219.0 489.9L215.5 489.2L212.0 488.6L207.7 487.5L203.3 486.4L194.7 486.3L186.0 486.1L177.3 486.5L168.7 487.0L164.3 488.5L160.0 490.0L155.0 490.5L150.0 490.9L141.5 490.6L133.0 490.2L125.0 490.7L117.0 491.2L108.5 493.5L100.0 495.8L91.5 496.3L83.0 496.8L76.5 498.0L70.0 499.3Z" fill="#f58b2d" stroke="#f58b2d" stroke-width=".3"/>
<path d="M70.0 497.0L76.5 495.6L83.0 494.3L91.5 493.8L100.0 493.3L108.5 490.8L117.0 488.3L125.0 487.8L133.0 487.3L141.5 487.8L150.0 488.2L155.0 487.8L160.0 487.3L164.3 485.6L168.7 484.0L177.3 483.6L186.0 483.2L194.7 483.4L203.3 483.5L207.7 484.7L212.0 485.9L215.5 486.6L219.0 487.3L224.2 486.9L229.3 486.5L232.8 486.8L236.3 487.0L239.8 488.7L243.2 490.4L246.6 490.2L250.0 490.1L253.5 490.6L257.0 491.1L264.6 491.4L272.1 491.6L277.4 464.7L283.7 463.9L290.0 463.0L296.5 461.9L303.0 460.7L308.0 461.2L313.0 461.7L318.0 459.9L323.0 458.0L328.0 459.0L333.0 460.0L336.5 460.0L340.0 460.0L347.5 455.9L355.0 451.7L360.0 450.4L365.0 449.0L370.0 448.0L375.0 447.0L380.0 444.8L385.0 442.5L390.0 440.2L395.0 438.0L399.5 435.8L404.0 433.6L408.0 432.3L413.0 437.0L416.2 440.9L419.5 444.8L425.5 431.6L430.5 438.6L435.5 440.6L441.0 439.0L447.0 437.4L455.0 435.7L463.0 434.0L471.5 433.0L480.0 432.0L485.0 430.0L496.0 426.7L507.0 423.4L518.5 420.6L530.0 417.8L535.5 416.9L541.0 416.0L545.0 411.5L549.0 415.0L554.5 413.2L560.0 411.5L565.5 410.0L571.0 408.5L574.5 406.6L578.0 404.8L582.0 407.8L586.0 406.6L590.0 405.5L593.5 404.4L597.0 403.2L601.0 404.4L606.5 402.0L612.0 399.6L617.5 398.1L623.0 396.6L630.5 395.5L638.0 394.3L644.0 392.9L650.0 391.5L655.0 390.2L660.0 389.0L664.8 386.0L669.5 383.0L673.0 384.4L675.0 386.0L679.0 387.0L683.0 388.0L686.0 386.2L690.0 387.5L694.0 389.5L700.0 386.0L705.0 384.0L708.0 385.5L712.0 389.0L716.0 390.4L720.0 391.7L724.0 391.9L728.0 392.0L731.5 393.7L735.0 395.4L738.5 396.4L742.0 397.5L746.5 398.8L751.0 400.0L751.0 400.6L746.5 399.3L742.0 398.1L738.5 397.1L735.0 396.0L731.5 394.3L728.0 392.6L724.0 392.5L720.0 392.3L716.0 391.0L712.0 389.6L708.0 386.2L705.0 384.7L700.0 386.7L694.0 390.1L690.0 388.1L686.0 386.9L683.0 388.6L679.0 387.6L675.0 386.7L673.0 385.1L669.5 383.7L664.8 386.7L660.0 389.6L655.0 390.9L650.0 392.1L644.0 393.5L638.0 394.9L630.5 396.1L623.0 397.2L617.5 398.7L612.0 400.2L606.5 402.6L601.0 405.0L597.0 403.8L593.5 405.0L590.0 406.1L586.0 407.3L582.0 408.4L578.0 405.4L574.5 407.3L571.0 409.1L565.5 410.6L560.0 412.1L554.5 413.9L549.0 415.6L545.0 412.1L541.0 416.6L535.5 417.5L530.0 418.4L518.5 421.2L507.0 424.0L496.0 427.3L485.0 430.6L480.0 432.6L471.5 433.6L463.0 434.5L455.0 436.2L447.0 437.9L441.0 439.4L435.5 441.0L430.5 439.0L425.5 432.0L419.5 445.2L416.2 441.3L413.0 437.4L408.0 432.7L404.0 434.0L399.5 436.1L395.0 438.3L390.0 440.6L385.0 442.8L380.0 445.1L375.0 447.4L370.0 448.4L365.0 449.4L360.0 450.8L355.0 452.2L347.5 456.4L340.0 460.7L336.5 460.7L333.0 460.8L328.0 459.8L323.0 458.8L318.0 460.6L313.0 462.4L308.0 461.9L303.0 461.4L296.5 462.6L290.0 463.7L283.7 464.6L277.4 465.4L272.1 492.4L264.6 492.1L257.0 491.9L253.5 491.4L250.0 490.9L246.6 491.1L243.2 491.2L239.8 489.6L236.3 487.9L232.8 487.7L229.3 487.4L224.2 487.8L219.0 488.2L215.5 487.5L212.0 486.9L207.7 485.7L203.3 484.5L194.7 484.4L186.0 484.2L177.3 484.6L168.7 485.0L164.3 486.7L160.0 488.3L155.0 488.7L150.0 489.2L141.5 488.8L133.0 488.3L125.0 488.8L117.0 489.4L108.5 491.8L100.0 494.2L91.5 494.7L83.0 495.2L76.5 496.5L70.0 497.8Z" fill="#e15a46" stroke="#e15a46" stroke-width=".3"/>
<path d="M70.0 516.5L76.5 516.2L83.0 515.9L91.5 515.6L100.0 515.2L108.5 514.7L117.0 514.1L125.0 513.7L133.0 513.3L141.5 513.0L150.0 512.7L155.0 512.4L160.0 512.1L164.3 511.7L168.7 511.1L177.3 510.7L186.0 510.5L194.7 510.5L203.3 510.5L207.7 510.8L212.0 511.0L215.5 511.2L219.0 511.3L224.2 511.2L229.3 511.1L232.8 511.2L236.3 511.3L239.8 511.6L243.2 512.0L246.6 511.9L250.0 511.9L253.5 512.0L257.0 512.1L264.6 512.2L272.1 512.2L277.4 485.9L283.7 485.7L290.0 485.6L296.5 485.3L303.0 485.0L308.0 485.6L313.0 486.2L318.0 485.4L323.0 484.7L328.0 485.6L333.0 486.4L336.5 486.7L340.0 487.0L347.5 485.4L355.0 483.7L360.0 483.4L365.0 482.7L370.0 481.8L375.0 480.9L380.0 479.4L385.0 477.8L390.0 476.2L395.0 474.7L399.5 473.5L404.0 472.3L408.0 471.6L413.0 474.1L416.2 476.2L419.5 478.3L425.5 471.1L430.5 474.9L435.5 476.0L441.0 475.1L447.0 474.2L455.0 473.3L463.0 472.4L471.5 471.8L480.0 471.3L485.0 470.0L496.0 467.9L507.0 465.7L518.5 463.8L530.0 461.8L535.5 461.1L541.0 460.4L545.0 457.7L549.0 459.5L554.5 458.3L560.0 457.1L565.5 456.1L571.0 455.0L574.5 453.8L578.0 452.6L582.0 454.2L586.0 453.4L590.0 452.5L593.5 451.7L597.0 450.9L601.0 451.5L606.5 449.8L612.0 448.2L617.5 447.1L623.0 445.9L630.5 444.9L638.0 443.9L644.0 442.8L650.0 441.6L655.0 440.7L660.0 439.7L664.8 437.6L669.5 435.5L673.0 436.4L675.0 437.4L679.0 438.1L683.0 438.8L686.0 437.8L690.0 438.6L694.0 439.9L700.0 437.9L705.0 436.8L708.0 437.8L712.0 440.0L716.0 440.9L720.0 441.8L724.0 441.9L728.0 442.1L731.5 443.2L735.0 444.3L738.5 444.9L742.0 445.6L746.5 446.5L751.0 447.3" fill="none" stroke="#50b3cd" stroke-width="1"/>
<path d="M70.0 516.5L76.5 516.2L83.0 515.9L91.5 515.6L100.0 515.2L108.5 514.7L117.0 514.1L125.0 513.7L133.0 513.3L141.5 513.0L150.0 512.7L155.0 512.4L160.0 512.1L164.3 511.7L168.7 511.1L177.3 510.7L186.0 510.5L194.7 510.5L203.3 510.5L207.7 510.8L212.0 511.0L215.5 511.2L219.0 511.3L224.2 511.2L229.3 511.1L232.8 511.2L236.3 511.3L239.8 511.6L243.2 512.0L246.6 511.9L250.0 511.9L253.5 512.0L257.0 512.1L264.6 512.2L272.1 512.2L277.4 485.9L283.7 485.7L290.0 485.6L296.5 485.3L303.0 485.0L308.0 485.6L313.0 486.2L318.0 485.4L323.0 484.7L328.0 485.6L333.0 486.4L336.5 486.2L340.0 485.5L347.5 481.5L355.0 477.1L360.0 475.0L365.0 473.3L370.0 472.1L375.0 470.8L380.0 468.8L385.0 466.7L390.0 464.5L395.0 462.5L399.5 461.2L404.0 460.0L408.0 459.3L413.0 462.8L416.2 465.6L419.5 468.4L425.5 459.8L430.5 464.8L435.5 466.4L441.0 465.6L447.0 464.9L455.0 464.2L463.0 463.5L471.5 463.3L480.0 463.2L485.0 461.7L496.0 459.3L507.0 456.8L518.5 454.6L530.0 452.4L535.5 451.6L541.0 450.9L545.0 447.8L549.0 449.9L554.5 448.6L560.0 447.2L565.5 446.0L571.0 444.8L574.5 443.5L578.0 442.1L582.0 444.0L586.0 443.0L590.0 442.1L593.5 441.2L597.0 440.3L601.0 440.9L606.5 439.1L612.0 437.3L617.5 436.0L623.0 434.7L630.5 433.5L638.0 432.3L644.0 431.0L650.0 429.7L655.0 428.5L660.0 427.4L664.8 425.0L669.5 422.6L673.0 423.6L675.0 424.7L679.0 425.5L683.0 426.3L686.0 425.0L690.0 426.0L694.0 427.5L700.0 425.1L705.0 423.8L708.0 424.9L712.0 427.4L716.0 428.4L720.0 429.4L724.0 429.6L728.0 429.7L731.5 431.0L735.0 432.2L738.5 433.0L742.0 433.8L746.5 434.7L751.0 435.6" fill="none" stroke="#56bdcb" stroke-width="0.9"/>
<path d="M70.0 516.5L76.5 516.2L83.0 515.9L91.5 515.6L100.0 515.2L108.5 514.7L117.0 514.1L125.0 513.7L133.0 513.3L141.5 513.0L150.0 512.7L155.0 512.4L160.0 512.1L164.3 511.7L168.7 511.1L177.3 510.7L186.0 510.5L194.7 510.5L203.3 510.5L207.7 510.8L212.0 511.0L215.5 511.2L219.0 511.3L224.2 511.2L229.3 511.1L232.8 511.2L236.3 511.3L239.8 511.6L243.2 512.0L246.6 511.9L250.0 511.9L253.5 512.0L257.0 512.1L264.6 512.2L272.1 512.2L277.4 485.9L283.7 485.7L290.0 485.6L296.5 485.3L303.0 485.0L308.0 485.6L313.0 486.2L318.0 485.4L323.0 484.7L328.0 485.6L333.0 486.4L336.5 485.9L340.0 484.4L347.5 478.2L355.0 471.0L360.0 466.9L365.0 464.4L370.0 463.1L375.0 461.8L380.0 459.5L385.0 457.2L390.0 454.8L395.0 452.6L399.5 451.1L404.0 449.7L408.0 448.9L413.0 453.1L416.2 456.4L419.5 459.7L425.5 449.7L430.5 455.6L435.5 457.5L441.0 456.6L447.0 455.8L455.0 455.1L463.0 454.4L471.5 454.3L480.0 454.2L485.0 452.6L496.0 449.8L507.0 447.1L518.5 444.6L530.0 442.2L535.5 441.3L541.0 440.5L545.0 436.9L549.0 439.5L554.5 437.9L560.0 436.4L565.5 435.1L571.0 433.8L574.5 432.2L578.0 430.7L582.0 432.9L586.0 431.9L590.0 430.8L593.5 429.8L597.0 428.8L601.0 429.6L606.5 427.5L612.0 425.5L617.5 424.1L623.0 422.6L630.5 421.2L638.0 419.7L644.0 418.2L650.0 416.6L655.0 415.3L660.0 413.9L664.8 411.1L669.5 408.3L673.0 409.4L675.0 410.7L679.0 411.6L683.0 412.4L686.0 411.0L690.0 412.1L694.0 413.8L700.0 411.0L705.0 409.4L708.0 410.7L712.0 413.5L716.0 414.7L720.0 415.8L724.0 415.9L728.0 416.1L731.5 417.5L735.0 418.9L738.5 419.8L742.0 420.7L746.5 421.7L751.0 422.8" fill="none" stroke="#4fbcad" stroke-width="0.9"/>
<path d="M70.0 508.6L76.5 507.9L83.0 507.2L91.5 506.9L100.0 506.6L108.5 505.3L117.0 504.0L125.0 503.6L133.0 503.3L141.5 503.4L150.0 503.4L155.0 503.1L160.0 502.8L164.3 501.9L168.7 501.1L177.3 500.7L186.0 500.4L194.7 500.4L203.3 500.4L207.7 501.0L212.0 501.6L215.5 501.9L219.0 502.2L224.2 502.0L229.3 501.7L232.8 501.8L236.3 501.9L239.8 502.8L243.2 503.6L246.6 503.5L250.0 503.4L253.5 503.7L257.0 503.9L264.6 504.0L272.1 504.1L277.4 476.9L283.7 476.4L290.0 475.9L296.5 475.3L303.0 474.6L308.0 475.1L313.0 475.6L318.0 474.4L323.0 473.1L328.0 474.0L333.0 474.9L336.5 474.7L340.0 474.0L347.5 469.0L355.0 463.2L360.0 460.3L365.0 458.3L370.0 457.2L375.0 456.0L380.0 453.8L385.0 451.5L390.0 449.2L395.0 447.0L399.5 445.3L404.0 443.6L408.0 442.6L413.0 447.0L416.2 450.6L419.5 454.2L425.5 443.0L430.5 449.3L435.5 451.3L441.0 450.2L447.0 449.1L455.0 448.1L463.0 447.1L471.5 446.7L480.0 446.3L485.0 444.6L496.0 441.6L507.0 438.7L518.5 436.1L530.0 433.5L535.5 432.6L541.0 431.8L545.0 427.9L549.0 430.8L554.5 429.2L560.0 427.6L565.5 426.2L571.0 424.8L574.5 423.1L578.0 421.5L582.0 423.9L586.0 422.9L590.0 421.8L593.5 420.7L597.0 419.7L601.0 420.6L606.5 418.4L612.0 416.2L617.5 414.8L623.0 413.3L630.5 412.0L638.0 410.6L644.0 409.1L650.0 407.6L655.0 406.3L660.0 404.9L664.8 402.1L669.5 399.2L673.0 400.4L675.0 401.8L679.0 402.7L683.0 403.7L686.0 402.1L690.0 403.3L694.0 405.0L700.0 402.0L705.0 400.3L708.0 401.6L712.0 404.7L716.0 405.9L720.0 407.1L724.0 407.3L728.0 407.4L731.5 409.0L735.0 410.5L738.5 411.4L742.0 412.4L746.5 413.5L751.0 414.6" fill="none" stroke="#45b088" stroke-width="0.9"/>
<path d="M70.0 504.0L76.5 503.1L83.0 502.1L91.5 501.6L100.0 501.2L108.5 499.4L117.0 497.5L125.0 497.1L133.0 496.6L141.5 496.8L150.0 496.9L155.0 496.5L160.0 496.1L164.3 494.9L168.7 493.6L177.3 493.2L186.0 492.9L194.7 493.0L203.3 493.1L207.7 493.9L212.0 494.8L215.5 495.3L219.0 495.8L224.2 495.5L229.3 495.2L232.8 495.4L236.3 495.6L239.8 496.8L243.2 498.0L246.6 497.9L250.0 497.8L253.5 498.2L257.0 498.5L264.6 498.7L272.1 498.9L277.4 470.5L283.7 469.8L290.0 469.1L296.5 468.2L303.0 467.2L308.0 467.7L313.0 468.2L318.0 466.6L323.0 465.0L328.0 466.0L333.0 466.9L336.5 466.8L340.0 466.3L347.5 461.7L355.0 457.1L360.0 455.2L365.0 453.6L370.0 452.5L375.0 451.5L380.0 449.3L385.0 447.0L390.0 444.8L395.0 442.6L399.5 440.6L404.0 438.7L408.0 437.6L413.0 442.2L416.2 445.9L419.5 449.7L425.5 437.5L430.5 444.2L435.5 446.2L441.0 444.9L447.0 443.6L455.0 442.3L463.0 441.0L471.5 440.3L480.0 439.7L485.0 437.8L496.0 434.7L507.0 431.6L518.5 429.0L530.0 426.3L535.5 425.5L541.0 424.6L545.0 420.4L549.0 423.6L554.5 421.9L560.0 420.3L565.5 418.9L571.0 417.4L574.5 415.7L578.0 414.0L582.0 416.7L586.0 415.6L590.0 414.5L593.5 413.4L597.0 412.3L601.0 413.4L606.5 411.1L612.0 408.8L617.5 407.4L623.0 405.9L630.5 404.6L638.0 403.3L644.0 401.8L650.0 400.3L655.0 399.0L660.0 397.6L664.8 394.7L669.5 391.7L673.0 393.0L675.0 394.5L679.0 395.5L683.0 396.4L686.0 394.7L690.0 396.0L694.0 397.8L700.0 394.6L705.0 392.7L708.0 394.1L712.0 397.4L716.0 398.7L720.0 400.0L724.0 400.1L728.0 400.3L731.5 401.9L735.0 403.5L738.5 404.5L742.0 405.5L746.5 406.6L751.0 407.8" fill="none" stroke="#7fb55a" stroke-width="0.6"/>
<path d="M70.0 513.9L76.5 513.5L83.0 513.0L91.5 512.7L100.0 512.4L108.5 511.6L117.0 510.7L125.0 510.4L133.0 510.0L141.5 509.8L150.0 509.6L155.0 509.4L160.0 509.1L164.3 508.5L168.7 507.8L177.3 507.4L186.0 507.1L194.7 507.2L203.3 507.2L207.7 507.5L212.0 507.9L215.5 508.1L219.0 508.3L224.2 508.2L229.3 508.0L232.8 508.1L236.3 508.2L239.8 508.7L243.2 509.2L246.6 509.2L250.0 509.1L253.5 509.3L257.0 509.4L264.6 509.5L272.1 509.5L277.4 482.9L283.7 482.7L290.0 482.4L296.5 482.0L303.0 481.6L308.0 482.1L313.0 482.7L318.0 481.8L323.0 480.9L328.0 481.8L333.0 482.6L336.5 482.2L340.0 481.0L347.5 475.2L355.0 468.4L360.0 464.8L365.0 462.4L370.0 461.1L375.0 459.9L380.0 457.6L385.0 455.3L390.0 452.9L395.0 450.7L399.5 449.2L404.0 447.6L408.0 446.8L413.0 451.1L416.2 454.5L419.5 457.9L425.5 447.5L430.5 453.5L435.5 455.5L441.0 454.5L447.0 453.6L455.0 452.8L463.0 452.0L471.5 451.8L480.0 451.6L485.0 449.9L496.0 447.1L507.0 444.3L518.5 441.8L530.0 439.3L535.5 438.5L541.0 437.6L545.0 433.9L549.0 436.6L554.5 435.0L560.0 433.5L565.5 432.2L571.0 430.8L574.5 429.2L578.0 427.6L582.0 429.9L586.0 428.9L590.0 427.8L593.5 426.8L597.0 425.8L601.0 426.6L606.5 424.5L612.0 422.4L617.5 421.0L623.0 419.6L630.5 418.1L638.0 416.7L644.0 415.2L650.0 413.7L655.0 412.3L660.0 410.9L664.8 408.1L669.5 405.3L673.0 406.5L675.0 407.8L679.0 408.7L683.0 409.5L686.0 408.1L690.0 409.2L694.0 410.9L700.0 408.0L705.0 406.4L708.0 407.7L712.0 410.6L716.0 411.8L720.0 412.9L724.0 413.1L728.0 413.2L731.5 414.7L735.0 416.1L738.5 417.0L742.0 417.9L746.5 419.0L751.0 420.1" fill="none" stroke="#48b28c" stroke-width=".7" stroke-opacity=".9"/>
<path d="M70.0 511.3L76.5 510.7L83.0 510.2L91.5 509.8L100.0 509.5L108.5 508.5L117.0 507.4L125.0 507.1L133.0 506.7L141.5 506.6L150.0 506.6L155.0 506.3L160.0 506.0L164.3 505.2L168.7 504.5L177.3 504.1L186.0 503.8L194.7 503.8L203.3 503.8L207.7 504.3L212.0 504.8L215.5 505.0L219.0 505.3L224.2 505.1L229.3 504.9L232.8 505.0L236.3 505.1L239.8 505.8L243.2 506.5L246.6 506.4L250.0 506.3L253.5 506.5L257.0 506.7L264.6 506.8L272.1 506.9L277.4 480.0L283.7 479.6L290.0 479.2L296.5 478.7L303.0 478.1L308.0 478.7L313.0 479.2L318.0 478.1L323.0 477.1L328.0 478.0L333.0 478.8L336.5 478.5L340.0 477.5L347.5 472.1L355.0 465.8L360.0 462.6L365.0 460.4L370.0 459.2L375.0 458.0L380.0 455.7L385.0 453.4L390.0 451.1L395.0 448.9L399.5 447.3L404.0 445.6L408.0 444.8L413.0 449.1L416.2 452.6L419.5 456.1L425.5 445.3L430.5 451.5L435.5 453.4L441.0 452.4L447.0 451.4L455.0 450.5L463.0 449.6L471.5 449.3L480.0 449.0L485.0 447.3L496.0 444.4L507.0 441.5L518.5 439.0L530.0 436.5L535.5 435.6L541.0 434.7L545.0 431.0L549.0 433.7L554.5 432.1L560.0 430.6L565.5 429.2L571.0 427.8L574.5 426.2L578.0 424.6L582.0 427.0L586.0 425.9L590.0 424.9L593.5 423.8L597.0 422.8L601.0 423.7L606.5 421.5L612.0 419.4L617.5 418.0L623.0 416.5L630.5 415.1L638.0 413.7L644.0 412.2L650.0 410.7L655.0 409.3L660.0 408.0L664.8 405.1L669.5 402.3L673.0 403.5L675.0 404.9L679.0 405.8L683.0 406.6L686.0 405.1L690.0 406.3L694.0 408.0L700.0 405.1L705.0 403.4L708.0 404.7L712.0 407.7L716.0 408.9L720.0 410.1L724.0 410.2L728.0 410.4L731.5 411.9L735.0 413.3L738.5 414.3L742.0 415.2L746.5 416.3L751.0 417.4" fill="none" stroke="#48b28c" stroke-width=".7" stroke-opacity=".9"/>
<path d="M70.0 506.3L76.5 505.5L83.0 504.7L91.5 504.3L100.0 503.9L108.5 502.3L117.0 500.8L125.0 500.4L133.0 499.9L141.5 500.1L150.0 500.2L155.0 499.8L160.0 499.5L164.3 498.4L168.7 497.4L177.3 496.9L186.0 496.6L194.7 496.7L203.3 496.7L207.7 497.5L212.0 498.2L215.5 498.6L219.0 499.0L224.2 498.7L229.3 498.5L232.8 498.6L236.3 498.8L239.8 499.8L243.2 500.8L246.6 500.7L250.0 500.6L253.5 500.9L257.0 501.2L264.6 501.4L272.1 501.5L277.4 473.7L283.7 473.1L290.0 472.5L296.5 471.7L303.0 470.9L308.0 471.4L313.0 471.9L318.0 470.5L323.0 469.1L328.0 470.0L333.0 470.9L336.5 470.7L340.0 470.2L347.5 465.4L355.0 460.1L360.0 457.8L365.0 456.0L370.0 454.9L375.0 453.8L380.0 451.5L385.0 449.2L390.0 447.0L395.0 444.8L399.5 443.0L404.0 441.1L408.0 440.1L413.0 444.6L416.2 448.3L419.5 451.9L425.5 440.3L430.5 446.8L435.5 448.8L441.0 447.5L447.0 446.4L455.0 445.2L463.0 444.0L471.5 443.5L480.0 443.0L485.0 441.2L496.0 438.2L507.0 435.1L518.5 432.5L530.0 429.9L535.5 429.0L541.0 428.2L545.0 424.2L549.0 427.2L554.5 425.6L560.0 423.9L565.5 422.5L571.0 421.1L574.5 419.4L578.0 417.7L582.0 420.3L586.0 419.2L590.0 418.1L593.5 417.1L597.0 416.0L601.0 417.0L606.5 414.8L612.0 412.5L617.5 411.1L623.0 409.6L630.5 408.3L638.0 407.0L644.0 405.5L650.0 404.0L655.0 402.6L660.0 401.3L664.8 398.4L669.5 395.4L673.0 396.7L675.0 398.2L679.0 399.1L683.0 400.0L686.0 398.4L690.0 399.6L694.0 401.4L700.0 398.3L705.0 396.5L708.0 397.9L712.0 401.1L716.0 402.3L720.0 403.6L724.0 403.7L728.0 403.9L731.5 405.4L735.0 407.0L738.5 407.9L742.0 408.9L746.5 410.1L751.0 411.2" fill="none" stroke="#48b28c" stroke-width=".7" stroke-opacity=".9"/>
<path d="M70.0 496.8L76.5 495.4L83.0 494.1L91.5 493.6L100.0 493.1L108.5 490.6L117.0 488.1L125.0 487.6L133.0 487.1L141.5 487.6L150.0 488.0L155.0 487.6L160.0 487.1L164.3 485.4L168.7 483.8L177.3 483.4L186.0 483.0L194.7 483.2L203.3 483.3L207.7 484.5L212.0 485.7L215.5 486.4L219.0 487.1L224.2 486.7L229.3 486.3L232.8 486.6L236.3 486.8L239.8 488.5L243.2 490.2L246.6 490.1L250.0 489.9L253.5 490.4L257.0 490.9L264.6 491.2L272.1 491.4L277.4 464.5L283.7 463.7L290.0 462.8L296.5 461.7L303.0 460.5L308.0 461.0L313.0 461.5L318.0 459.7L323.0 457.8L328.0 458.8L333.0 459.8L336.5 459.8L340.0 459.8L347.5 455.7L355.0 451.5L360.0 450.2L365.0 448.8L370.0 447.8L375.0 446.8L380.0 444.6L385.0 442.3L390.0 440.1L395.0 437.8L399.5 435.6L404.0 433.4L408.0 432.1L413.0 436.8L416.2 440.7L419.5 444.6L425.5 431.4L430.5 438.4L435.5 440.4L441.0 438.8L447.0 437.2L455.0 435.5L463.0 433.8L471.5 432.8L480.0 431.8L485.0 429.8L496.0 426.5L507.0 423.2L518.5 420.4L530.0 417.6L535.5 416.7L541.0 415.8L545.0 411.3L549.0 414.8L554.5 413.1L560.0 411.3L565.5 409.8L571.0 408.3L574.5 406.4L578.0 404.6L582.0 407.6L586.0 406.4L590.0 405.3L593.5 404.2L597.0 403.0L601.0 404.2L606.5 401.8L612.0 399.4L617.5 397.9L623.0 396.4L630.5 395.3L638.0 394.1L644.0 392.7L650.0 391.3L655.0 390.1L660.0 388.8L664.8 385.8L669.5 382.8L673.0 384.2L675.0 385.8L679.0 386.8L683.0 387.8L686.0 386.0L690.0 387.3L694.0 389.3L700.0 385.8L705.0 383.8L708.0 385.3L712.0 388.8L716.0 390.2L720.0 391.5L724.0 391.7L728.0 391.8L731.5 393.5L735.0 395.2L738.5 396.2L742.0 397.3L746.5 398.6L751.0 399.8" fill="none" stroke="#5a5eb0" stroke-width=".9"/>
<path d="M70.2 340V517.7" stroke="#e8e8e8" stroke-width="1"/>
<text x="64.6" y="515.4" font-size="9.4" fill="#666" text-anchor="end">0</text>
<path d="M66 517.7H70" stroke="#ddd" stroke-width=".8"/>
<text x="64.6" y="468.7" font-size="9.4" fill="#666" text-anchor="end">500</text>
<path d="M66 465.6H70" stroke="#ddd" stroke-width=".8"/>
<text x="64.6" y="416.6" font-size="9.4" fill="#666" text-anchor="end">1000</text>
<path d="M66 413.5H70" stroke="#ddd" stroke-width=".8"/>
</svg>
<div class="t-bar"></div>
<svg class="abs" style="left:0;top:189px" width="742" height="44" viewBox="9 519 742 44" fill="none">
<path d="M14.5 542.1H23.5 M18.3 538.1L14.5 542.1L18.3 546.1" stroke="#b5b5b5" stroke-width=".9"/>
<path d="M67.5 542.1H76.5 M72.7 538.1L76.5 542.1L72.7 546.1" stroke="#b5b5b5" stroke-width=".9"/>
<path d="M117.6 537.5V546.7 M119.6 542.1H128.5 M123.4 538.1L119.6 542.1L123.4 546.1" stroke="#b5b5b5" stroke-width=".9"/>
<g stroke="#666" stroke-width=".9"><circle cx="562.6" cy="542.1" r="1.7"/><circle cx="568.6" cy="539.1" r="1.7"/><circle cx="568.6" cy="545.1" r="1.7"/><path d="M564.1 541.3000000000001L567.1 539.8000000000001 M564.1 542.9L567.1 544.4"/></g>
<g stroke="#666" stroke-width=".9"><path d="M617 543.7H615.2V537.9H625V543.7H623.2"/><path d="M620.1 540.7V546.7 M617.7 544.5L620.1 546.9L622.5 544.5"/></g>
<g stroke="#666" stroke-width=".9"><rect x="686.6" y="539.5" width="8" height="5.2"/><path d="M684.2 539.9V537.5H687 M694.2 537.5H697V539.9 M697 544.3000000000001V546.7H694.2 M687 546.7H684.2V544.3000000000001"/></g>
<path d="M343.1 536.2h4.2M345.2 534.1v4.2" stroke="#808080" stroke-width=".75"/><path d="M340.5 533.0h3.0M342.0 531.5v3.0M340.5 539.4h3.0M342.0 537.9v3.0M346.9 533.0h3.0M348.4 531.5v3.0M346.9 539.4h3.0M348.4 537.9v3.0" stroke="#8c8c8c" stroke-width=".65"/><path d="M344.1 531.2h2.2M345.2 530.1v2.2M344.1 541.2h2.2M345.2 540.1v2.2M339.1 536.2h2.2M340.2 535.1v2.2M349.1 536.2h2.2M350.2 535.1v2.2" stroke="#999" stroke-width=".55"/>
</svg>
<div class="abs" style="left:23.5px;top:207.29999999999995px;font-size:8.5px;line-height:10px;color:#b0b0b0;white-space:nowrap;letter-spacing:-.2px">Undo</div>
<div class="abs" style="left:75.5px;top:207.29999999999995px;font-size:8.5px;line-height:10px;color:#b0b0b0;white-space:nowrap;letter-spacing:-.2px">Redo</div>
<div class="abs" style="left:126.5px;top:207.29999999999995px;font-size:8.5px;line-height:10px;color:#b0b0b0;white-space:nowrap;letter-spacing:-.2px">Reset</div>
<div class="abs" style="left:570px;top:207.29999999999995px;font-size:8.5px;line-height:10px;color:#555;white-space:nowrap;letter-spacing:-.2px">Share</div>
<div class="abs" style="left:624px;top:207.29999999999995px;font-size:8.5px;line-height:10px;color:#555;white-space:nowrap;letter-spacing:-.2px">Download</div>
<div class="abs" style="left:694px;top:207.29999999999995px;font-size:8.5px;line-height:10px;color:#555;white-space:nowrap;letter-spacing:-.2px">Full Screen</div>
<div class="abs" style="left:358.9px;top:199.79999999999995px;font-size:11.3px;line-height:13px;color:#555">a</div>
<div class="abs" style="left:368.7px;top:199.79999999999995px;font-size:11.3px;line-height:13px;color:#555">b</div>
<div class="abs" style="left:385.4px;top:199.79999999999995px;font-size:11.3px;line-height:13px;color:#555">e</div>
<div class="abs" style="left:395.4px;top:199.79999999999995px;font-size:11.3px;line-height:13px;color:#555">a</div>
<div class="abs" style="left:404.7px;top:199.79999999999995px;font-size:11.3px;line-height:13px;color:#555">u</div>
<svg class="abs" style="left:345px;top:198px" width="40" height="18" viewBox="354 528 40 18"><path d="M356 536.4h7.6 M359.8 532.6v7.6" stroke="#383838" stroke-width="1.1"/><path d="M388.6 530.2v11.2" stroke="#444" stroke-width="1"/></svg>
<div class="abs" style="left:308px;top:218.39999999999998px;font-size:8.45px;line-height:10px;color:#555;white-space:nowrap">5,764 views | more by this author</div>
</div>
<div id="jupshadow"></div>
<div id="jup">
<div class="j-head"></div>
<svg class="abs" style="left:3.5999999999999996px;top:2.6999999999999993px" width="8.8" height="11.2" viewBox="0 0 10 13">
<path d="M.8 4.2C1.6 2.2 3.2 1.4 5 1.4s3.4.8 4.2 2.8C8.2 3.2 6.8 2.7 5 2.7S1.8 3.2.8 4.2z" fill="#e98a3d"/>
<path d="M.8 8.8C1.6 10.8 3.2 11.6 5 11.6s3.4-.8 4.2-2.8C8.2 9.8 6.8 10.3 5 10.3S1.8 9.8.8 8.8z" fill="#e98a3d"/>
<circle cx="1.4" cy="1.2" r=".6" fill="#777"/><circle cx="8.4" cy=".8" r=".45" fill="#999"/><circle cx="1.6" cy="12.1" r=".5" fill="#888"/></svg>
<div class="abs" style="left:14.8px;top:-1.4000000000000004px;font-size:13.7px;line-height:16px;color:#4e4e4e;letter-spacing:.12px">jupyter</div>
<div class="abs" style="left:64.3px;top:3.5999999999999996px;font-size:7.85px;line-height:10px;color:#111">Subscriber_StreamsNotebook-1.2</div>
<div class="abs" style="left:185px;top:6px;font-size:5.3px;line-height:7px;color:#222">Last Checkpoint: 07/03/2017 (unsaved changes)</div>
<div class="abs" style="left:5px;top:16.6px;width:480px;height:12.4px;background:#f8f8f8;border:1px solid #e9e9e9;box-sizing:border-box;border-radius:1px"></div>
<div class="abs" style="left:11px;top:19px;font-size:5.4px;line-height:7px;color:#555">File</div>
<div class="abs" style="left:31px;top:19px;font-size:5.4px;line-height:7px;color:#555">Edit</div>
<div class="abs" style="left:52px;top:19px;font-size:5.4px;line-height:7px;color:#555">View</div>
<div class="abs" style="left:76px;top:19px;font-size:5.4px;line-height:7px;color:#555">Insert</div>
<div class="abs" style="left:101px;top:19px;font-size:5.4px;line-height:7px;color:#555">Cell</div>
<div class="abs" style="left:122.5px;top:19px;font-size:5.4px;line-height:7px;color:#555">Kernel</div>
<div class="abs" style="left:150px;top:19px;font-size:5.4px;line-height:7px;color:#555">Help</div>
<div class="j-btn" style="left:4.300000000000001px;width:11.4px"></div>
<div class="j-btn" style="left:18.3px;width:11.4px"></div>
<div class="j-btn" style="left:31.4px;width:37.3px"></div>
<div class="j-btn" style="left:70.6px;width:24.4px"></div>
<div class="j-btn" style="left:97.5px;width:33.3px"></div>
<div class="j-btn" style="left:133px;width:44.5px"></div>
<div class="j-btn" style="left:181px;width:12.6px"></div>
<div class="j-btn" style="left:196px;width:33.0px"></div>
<div class="abs" style="left:43.9px;top:31.4px;width:.7px;height:9.2px;background:#dcdcdc"></div>
<div class="abs" style="left:56.3px;top:31.4px;width:.7px;height:9.2px;background:#dcdcdc"></div>
<div class="abs" style="left:82.8px;top:31.4px;width:.7px;height:9.2px;background:#dcdcdc"></div>
<div class="abs" style="left:108.6px;top:31.4px;width:.7px;height:9.2px;background:#dcdcdc"></div>
<div class="abs" style="left:119.69999999999999px;top:31.4px;width:.7px;height:9.2px;background:#dcdcdc"></div>
<svg class="abs" style="left:0;top:29px" width="240" height="14" viewBox="9 36 240 14" fill="#333">
<path d="M16.8 41h4.2l.6.6v4h-4.8z M17.8 41v1.6h2.4v-1.6" fill="none" stroke="#333" stroke-width=".7"/>
<path d="M32.5 41.5h1.1v1.3h1.3v1.1h-1.3v1.3h-1.1v-1.3h-1.3v-1.1h1.3z"/>
<path d="M44.6 41.4l4 3.6 M48.6 41.4l-4 3.6" stroke="#444" stroke-width=".6" fill="none"/><circle cx="44.8" cy="45.2" r=".8" fill="none" stroke="#444" stroke-width=".5"/><circle cx="48.4" cy="45.2" r=".8" fill="none" stroke="#444" stroke-width=".5"/>
<path d="M57.4 41.2h2.6l.8.8v2.8h-3.4z M58.6 42.6h2.6l.6.6v2.8h-3.2z" fill="#fff" stroke="#333" stroke-width=".6"/>
<path d="M69.4 41.2h2.4v1.2h1.6l.8.8v2.8h-3v-1h-1.8z"/>
<path d="M85.8 40.8l2.2 2.4h-1.5v2.4h-1.4v-2.4h-1.5z"/>
<path d="M97.8 45.8l2.2-2.4h-1.5v-2.4h-1.4v2.4h-1.5z"/>
<path d="M113.3 41.2h.9v4.2h-.9z M113 43.3l-2.6-2.1v4.2z"/>
<rect x="121" y="41.2" width="4.2" height="4.2"/>
<path d="M136.2 43.3a2 2 0 1 1-.7-1.5" fill="none" stroke="#333" stroke-width=".8"/><path d="M136.6 40.8v1.8h-1.8z"/>
<path d="M182.4 42.6l1-1.2l1 1.2z M182.4 43.8l1 1.2l1-1.2z" fill="#555"/>
<rect x="193.4" y="41.6" width="5.8" height="3.4" rx=".5" fill="#fff" stroke="#777" stroke-width=".5"/><path d="M194.2 42.6h4.2 M194.2 43.4h4.2 M195 44.3h2.6" stroke="#999" stroke-width=".35"/>
</svg>
<div class="abs" style="left:136.2px;top:33px;font-size:5.3px;line-height:7px;color:#444">Code</div>
<div class="abs" style="left:199.4px;top:33px;font-size:5.3px;line-height:7px;color:#333">CellToolbar</div>
<div class="j-body"></div>
<div class="j-nb"></div>
<div class="j-scroll"></div>
<div class="abs" style="left:51px;top:55.6px;font-weight:bold;font-size:10.52px;line-height:13px;color:#000;white-space:nowrap">Plot sequential rolling windows for Streams</div>
<div class="abs" style="left:10px;top:72.2px;width:452px;height:267.8px;border:1px solid #c6c6c6;border-left:2.2px solid #42a5f5;box-sizing:border-box;border-radius:1px"></div>
<div class="j-prompt" style="left:18.6px;top:78.4px;color:#303f9f">In [22]:</div>
<div class="j-in" style="left:49px;top:74.6px;width:412px;height:79.2px"></div>
<pre class="j-code" style="left:51.4px;top:78.4px">startDate = <span class="s">'2015-08-01'</span>
<span class="c"># endDate = toDate</span>
fig, ax = plt.subplots()
ax.plot(thasosSignal.rolling(window=<span class="n">7</span>).mean()[startDate:], label=<span class="s">'Weekly'</span>)
ax.plot(thasosSignal.rolling(window=<span class="n">28</span>).mean()[startDate:], label=<span class="s">'Monthly'</span>)
ax.plot(thasosSignal.rolling(window=<span class="n">91</span>).mean()[startDate:], label=<span class="s">'Quarterly'</span>)
ax.plot(thasosSignal[startDate:], label=<span class="s">"Daily"</span>, alpha=<span class="n">.7</span>, lw=<span class="n">.5</span>)
ax.xaxis.set_major_locator(MonthLocator(bymonthday=(<span class="n">1</span>), interval=<span class="n">2</span>))
ax.xaxis.set_major_formatter(DateFormatter(<span class="s">'%b\n%Y'</span>))
<span class="c"># ax.vlines(x=yoy_df.index[-1],ymin=0.5, ymax=1.0999,colors='k',lw=1)</span>
plt.legend(loc=<span class="s">'best'</span>)</pre>
<div class="j-prompt" style="left:16.4px;top:164.9px;color:#d84315">Out[22]:</div>
<pre class="j-code" style="left:51.8px;top:164.9px">&lt;matplotlib.legend.Legend at 0x7fbacda7f150&gt;</pre>
<svg class="abs" style="left:0;top:0" width="474" height="446" viewBox="9 7 474 446">
<rect x="74.5" y="187.6" width="345.5" height="136.1" fill="#eaeaf2"/>
<path d="M74.5 323.6H420M74.5 300.9H420M74.5 278.2H420M74.5 255.6H420M74.5 232.9H420M74.5 210.2H420M74.5 187.6H420M90.0 187.6V323.6M120.1 187.6V323.6M150.1 187.6V323.6M180.2 187.6V323.6M210.3 187.6V323.6M240.3 187.6V323.6M270.4 187.6V323.6M300.5 187.6V323.6M330.6 187.6V323.6M360.6 187.6V323.6M390.7 187.6V323.6" stroke="#fff" stroke-opacity=".75" stroke-width="0.7" fill="none"/>
<path d="M74.5 261.0L75.0 272.0L75.5 285.4L76.0 285.0L76.5 286.2L77.0 282.2L77.5 276.8L78.0 258.5L78.5 273.5L78.9 283.0L79.4 289.4L79.9 283.8L80.4 280.9L80.9 275.9L81.4 257.9L81.9 276.4L82.4 283.4L82.9 293.1L83.4 286.9L83.9 283.0L84.4 278.7L84.9 257.3L85.4 274.7L85.9 284.3L86.4 294.0L86.9 284.4L87.4 284.2L87.8 278.0L88.3 258.9L88.8 276.3L89.3 284.8L89.8 295.6L90.3 287.4L90.8 284.5L91.3 278.8L91.8 263.7L92.3 279.1L92.8 287.4L93.3 295.2L93.8 289.5L94.3 284.9L94.8 278.1L95.3 260.1L95.8 278.5L96.2 287.0L96.7 289.4L97.2 289.1L97.7 285.6L98.2 278.5L98.7 263.2L99.2 279.7L99.7 287.0L100.2 289.3L100.7 288.1L101.2 289.4L101.7 283.2L102.2 267.0L102.7 280.3L103.2 290.7L103.7 302.0L104.2 290.5L104.7 287.4L105.1 279.0L105.6 256.6L106.1 274.8L106.6 284.6L107.1 284.7L107.6 284.8L108.1 286.7L108.6 280.4L109.1 263.9L109.6 276.5L110.1 290.2L110.6 298.2L111.1 289.9L111.6 287.9L112.1 283.1L112.6 272.2L113.1 280.3L113.5 288.6L114.0 288.1L114.5 289.0L115.0 286.6L115.5 279.5L116.0 266.9L116.5 276.1L117.0 285.4L117.5 287.3L118.0 288.2L118.5 288.0L119.0 279.1L119.5 270.2L120.0 278.8L120.5 289.0L121.0 294.2L121.5 289.1L121.9 287.0L122.4 278.2L122.9 263.2L123.4 272.8L123.9 285.0L124.4 285.7L124.9 283.7L125.4 282.3L125.9 272.3L126.4 249.2L126.9 273.0L127.4 285.9L127.9 287.3L128.4 285.4L128.9 280.7L129.4 275.1L129.9 257.3L130.4 267.9L130.8 280.4L131.3 287.5L131.8 275.0L132.3 272.0L132.8 226.1L133.3 245.9L133.8 263.0L134.3 274.0L134.8 276.8L135.3 287.3L135.8 244.2L136.3 265.4L136.8 238.2L137.3 263.5L137.8 275.6L138.3 285.7L138.8 277.8L139.2 244.2L139.7 266.5L140.2 244.9L140.7 257.6L141.2 268.5L141.7 271.4L142.2 265.9L142.7 226.1L143.2 249.8L143.7 222.8L144.2 219.3L144.7 250.6L145.2 217.0L145.7 200.2L146.2 219.3L146.7 314.5L147.2 289.6L147.7 233.9L148.1 258.0L148.6 267.3L149.1 270.5L149.6 272.5L150.1 263.3L150.6 245.3L151.1 262.5L151.6 279.0L152.1 282.3L152.6 281.2L153.1 283.6L153.6 278.5L154.1 262.9L154.6 274.6L155.1 288.4L155.6 287.5L156.1 287.3L156.5 286.4L157.0 278.0L157.5 266.7L158.0 272.7L158.5 284.6L159.0 287.3L159.5 287.8L160.0 285.1L160.5 279.8L161.0 270.1L161.5 280.7L162.0 290.6L162.5 290.8L163.0 290.4L163.5 289.6L164.0 278.9L164.5 265.4L164.9 277.6L165.4 286.0L165.9 290.0L166.4 289.0L166.9 287.1L167.4 280.5L167.9 269.9L168.4 279.3L168.9 289.8L169.4 295.2L169.9 286.5L170.4 285.2L170.9 278.9L171.4 259.3L171.9 272.7L172.4 285.5L172.9 291.3L173.4 284.3L173.8 285.1L174.3 278.7L174.8 257.0L175.3 277.3L175.8 286.7L176.3 289.0L176.8 287.4L177.3 286.8L177.8 279.7L178.3 261.1L178.8 276.3L179.3 285.3L179.8 286.6L180.3 287.4L180.8 284.0L181.3 277.7L181.8 268.2L182.2 276.8L182.7 288.5L183.2 298.5L183.7 286.0L184.2 283.8L184.7 280.3L185.2 257.7L185.7 277.5L186.2 284.3L186.7 296.6L187.2 287.3L187.7 285.2L188.2 276.0L188.7 258.0L189.2 276.0L189.7 285.8L190.2 294.9L190.7 285.4L191.1 286.8L191.6 277.3L192.1 263.1L192.6 276.6L193.1 285.9L193.6 299.8L194.1 286.9L194.6 284.9L195.1 282.8L195.6 270.1L196.1 277.7L196.6 289.5L197.1 291.7L197.6 287.2L198.1 285.9L198.6 282.3L199.1 267.3L199.5 278.9L200.0 288.0L200.5 301.7L201.0 290.2L201.5 290.2L202.0 280.0L202.5 263.0L203.0 281.6L203.5 287.5L204.0 292.6L204.5 290.1L205.0 289.0L205.5 281.7L206.0 261.7L206.5 281.1L207.0 288.7L207.5 297.2L208.0 291.6L208.4 289.3L208.9 282.4L209.4 266.4L209.9 280.1L210.4 288.6L210.9 291.7L211.4 291.6L211.9 289.0L212.4 283.7L212.9 262.2L213.4 280.5L213.9 288.8L214.4 298.4L214.9 289.7L215.4 287.8L215.9 279.8L216.4 266.1L216.8 277.9L217.3 286.1L217.8 290.6L218.3 288.1L218.8 286.7L219.3 281.2L219.8 267.9L220.3 279.8L220.8 289.7L221.3 288.2L221.8 289.9L222.3 288.5L222.8 278.3L223.3 257.1L223.8 277.8L224.3 287.8L224.8 289.1L225.2 289.3L225.7 286.8L226.2 281.5L226.7 256.8L227.2 278.9L227.7 290.0L228.2 288.5L228.7 290.7L229.2 291.0L229.7 283.3L230.2 267.5L230.7 282.1L231.2 290.0L231.7 293.9L232.2 292.8L232.7 290.0L233.2 285.6L233.7 274.4L234.1 282.5L234.6 289.8L235.1 291.5L235.6 290.1L236.1 288.2L236.6 281.3L237.1 269.2L237.6 278.2L238.1 291.0L238.6 289.8L239.1 291.9L239.6 286.6L240.1 279.7L240.6 262.4L241.1 277.3L241.6 289.9L242.1 289.6L242.5 287.2L243.0 285.6L243.5 278.8L244.0 260.5L244.5 276.5L245.0 286.2L245.5 295.2L246.0 288.1L246.5 287.4L247.0 277.4L247.5 260.4L248.0 275.9L248.5 285.8L249.0 298.4L249.5 286.5L250.0 286.0L250.5 279.1L251.0 261.9L251.4 275.4L251.9 287.6L252.4 290.0L252.9 286.0L253.4 286.6L253.9 277.2L254.4 254.9L254.9 276.6L255.4 286.5L255.9 287.5L256.4 287.1L256.9 285.5L257.4 281.6L257.9 268.5L258.4 276.5L258.9 288.5L259.4 294.1L259.8 289.9L260.3 286.6L260.8 280.0L261.3 263.0L261.8 278.1L262.3 288.0L262.8 300.2L263.3 289.9L263.8 284.6L264.3 278.2L264.8 269.6L265.3 276.5L265.8 285.7L266.3 289.7L266.8 290.1L267.3 285.2L267.8 282.2L268.3 265.3L268.7 278.8L269.2 286.6L269.7 292.1L270.2 289.7L270.7 286.5L271.2 281.0L271.7 267.0L272.2 279.4L272.7 290.9L273.2 292.6L273.7 290.5L274.2 290.2L274.7 285.7L275.2 272.4L275.7 281.8L276.2 293.9L276.7 291.7L277.1 293.5L277.6 287.9L278.1 282.2L278.6 262.9L279.1 280.1L279.6 289.2L280.1 288.0L280.6 290.2L281.1 288.4L281.6 282.8L282.1 272.9L282.6 278.1L283.1 290.0L283.6 295.0L284.1 289.7L284.6 289.5L285.1 282.3L285.5 258.3L286.0 277.8L286.5 288.1L287.0 288.4L287.5 289.3L288.0 287.0L288.5 283.7L289.0 263.1L289.5 278.3L290.0 288.3L290.5 302.4L291.0 291.6L291.5 288.6L292.0 283.0L292.5 267.7L293.0 278.0L293.5 290.6L294.0 290.5L294.4 290.2L294.9 289.3L295.4 283.7L295.9 271.0L296.4 277.3L296.9 288.3L297.4 291.0L297.9 286.6L298.4 287.3L298.9 282.0L299.4 269.1L299.9 278.5L300.4 289.7L300.9 290.9L301.4 288.8L301.9 285.9L302.4 280.3L302.8 266.2L303.3 278.4L303.8 288.5L304.3 296.5L304.8 286.2L305.3 287.9L305.8 279.0L306.3 257.7L306.8 276.7L307.3 286.3L307.8 287.5L308.3 285.1L308.8 280.3L309.3 272.7L309.8 251.0L310.3 271.3L310.8 278.6L311.3 278.6L311.7 277.4L312.2 275.7L312.7 262.4L313.2 204.3L313.7 254.1L314.2 267.7L314.7 279.0L315.2 271.2L315.7 268.5L316.2 300.9L316.7 235.5L317.2 259.0L317.7 273.4L318.2 284.5L318.7 274.3L319.2 268.0L319.7 258.7L320.1 228.4L320.6 254.8L321.1 266.9L321.6 273.0L322.1 266.2L322.6 261.8L323.1 249.6L323.6 222.7L324.1 242.3L324.6 256.3L325.1 219.3L325.6 250.6L326.1 217.0L326.6 200.2L327.1 219.3L327.6 319.1L328.1 289.6L328.6 267.1L329.0 260.2L329.5 262.9L330.0 257.5L330.5 232.0L331.0 262.5L331.5 278.1L332.0 280.1L332.5 277.4L333.0 277.0L333.5 265.9L334.0 244.7L334.5 269.8L335.0 279.6L335.5 285.6L336.0 286.3L336.5 285.7L337.0 275.9L337.4 259.3L337.9 273.8L338.4 285.6L338.9 286.9L339.4 283.7L339.9 280.3L340.4 276.5L340.9 259.3L341.4 270.7L341.9 286.0L342.4 296.1L342.9 284.9L343.4 283.9L343.9 278.4L344.4 255.0L344.9 278.9L345.4 289.7L345.8 288.0L346.3 291.5L346.8 287.2L347.3 282.4L347.8 268.2L348.3 281.1L348.8 291.2L349.3 291.4L349.8 287.5L350.3 289.6L350.8 279.3L351.3 269.1L351.8 277.3L352.3 286.8L352.8 297.9L353.3 289.3L353.8 284.9L354.3 281.2L354.7 262.2L355.2 278.6L355.7 286.8L356.2 286.7L356.7 289.3L357.2 287.7L357.7 280.8L358.2 257.6L358.7 275.8L359.2 285.5L359.7 290.0L360.2 286.7L360.7 286.8L361.2 281.8L361.7 262.1L362.2 279.0L362.7 289.9L363.1 288.0L363.6 287.5L364.1 284.2L364.6 281.4L365.1 265.3L365.6 274.2L366.1 284.3L366.6 288.4L367.1 287.3L367.6 285.2L368.1 276.3L368.6 263.7L369.1 275.1L369.6 285.0L370.1 287.1L370.6 288.5L371.1 287.1L371.6 280.6L372.0 261.9L372.5 279.5L373.0 287.0L373.5 295.8L374.0 289.0L374.5 288.5L375.0 279.3L375.5 258.6L376.0 280.5L376.5 290.9L377.0 292.5L377.5 288.9L378.0 288.4L378.5 283.0L379.0 266.0L379.5 278.5L380.0 287.6L380.4 288.7L380.9 291.3L381.4 286.9L381.9 283.7L382.4 267.5L382.9 280.5L383.4 292.3L383.9 299.2L384.4 290.1L384.9 290.1L385.4 285.4L385.9 268.5L386.4 282.0L386.9 291.9L387.4 290.5L387.9 288.6L388.4 290.8L388.9 282.8L389.3 261.5L389.8 278.3L390.3 291.5L390.8 297.6L391.3 287.9L391.8 288.0L392.3 280.1L392.8 265.7L393.3 279.7L393.8 290.0L394.3 289.2L394.8 291.4L395.3 287.5L395.8 281.0L396.3 269.2L396.8 280.9L397.3 290.1L397.7 291.5L398.2 289.0L398.7 289.5L399.2 284.2L399.7 267.2L400.2 281.0L400.7 289.7L401.2 291.7L401.7 289.2L402.2 289.7L402.7 283.0L403.2 265.6L403.7 278.0L404.2 290.2L404.7 291.6L405.2 289.8L405.7 289.2L406.1 283.5L406.6 263.3L407.1 281.3L407.6 291.6L408.1 293.1L408.6 289.9L409.1 291.5L409.6 286.7L410.1 269.5L410.6 285.2L411.1 289.6L411.6 293.1L412.1 292.2L412.6 288.4L413.1 284.3L413.6 274.7L414.1 281.5L414.6 290.0L415.0 299.0L415.5 291.9L416.0 289.8L416.5 285.3L417.0 270.6" stroke="#8e8ec6" stroke-opacity=".5" stroke-width=".4" fill="none" stroke-linejoin="round"/>
<path d="M118.8 282.6C119.5 282.6 121.7 282.7 123.3 282.6C124.9 282.5 126.7 282.4 128.4 282.1C130.1 281.8 132.0 281.3 133.5 280.8C135.0 280.4 136.0 280.0 137.3 279.3C138.5 278.6 139.8 277.7 141.1 276.8C142.3 275.9 143.8 274.5 144.9 273.7C145.9 273.0 146.4 272.8 147.4 272.5C148.5 272.2 149.7 272.1 151.2 272.0C152.7 271.8 154.6 271.8 156.3 271.7C158.0 271.6 159.7 271.5 161.3 271.5C163.0 271.5 164.7 271.6 166.4 271.7C168.1 271.8 169.8 271.8 171.5 272.0C173.2 272.1 174.9 272.4 176.5 272.7C178.2 273.1 180.1 273.5 181.6 274.0C183.1 274.5 184.4 275.1 185.4 275.8C186.5 276.5 187.1 277.5 187.9 278.3C188.8 279.1 189.6 279.8 190.5 280.3C191.3 280.8 192.0 281.0 193.0 281.3C194.1 281.6 195.3 281.9 196.8 282.1C198.3 282.3 199.8 282.5 201.9 282.6C204.0 282.7 206.9 282.9 209.5 282.9C212.0 282.9 214.5 282.7 217.1 282.6C219.6 282.6 222.1 282.5 224.7 282.6C227.2 282.7 230.2 283.2 232.3 283.4C234.4 283.6 236.0 283.8 237.3 283.9C238.7 284.0 238.0 284.0 240.1 283.9C242.3 283.8 246.9 283.5 250.3 283.4C253.6 283.3 257.0 283.3 260.4 283.4C263.8 283.5 267.2 283.7 270.5 283.9C273.9 284.0 277.3 284.3 280.7 284.4C284.0 284.5 287.4 284.4 290.8 284.4C294.2 284.4 298.0 284.5 300.9 284.4C303.9 284.3 306.4 284.2 308.5 283.9C310.7 283.6 312.1 283.1 313.6 282.6C315.1 282.1 316.1 281.6 317.4 280.8C318.7 280.1 319.9 279.3 321.2 278.3C322.5 277.3 323.7 276.0 325.0 275.0C326.3 274.0 327.5 273.1 328.8 272.5C330.1 271.8 331.3 271.5 332.6 271.2C333.9 270.9 334.9 270.6 336.4 270.4C337.9 270.3 339.8 270.2 341.5 270.2C343.2 270.2 344.9 270.2 346.5 270.2C348.2 270.2 349.9 270.3 351.6 270.4C353.3 270.6 355.2 270.9 356.7 271.2C358.2 271.5 359.2 272.0 360.5 272.5C361.7 273.0 363.0 273.5 364.3 274.2C365.5 275.0 367.0 275.9 368.1 276.8C369.1 277.6 369.8 278.6 370.6 279.3C371.5 280.1 372.3 280.8 373.1 281.3C374.0 281.9 374.6 282.3 375.7 282.6C376.7 282.9 377.6 283.2 379.5 283.4C381.4 283.6 384.1 283.8 387.1 283.9C390.0 284.0 393.8 283.8 397.2 283.9C400.6 284.0 404.0 284.2 407.3 284.4C410.7 284.6 415.8 284.8 417.5 284.9" stroke="#c44e52" stroke-width="1.2" fill="none"/>
<path d="M86.6 278.8C87.2 279.1 89.1 280.3 90.4 280.8C91.7 281.4 92.9 281.8 94.2 282.1C95.5 282.4 96.7 282.4 98.0 282.6C99.3 282.8 100.5 283.2 101.8 283.4C103.1 283.6 104.3 283.8 105.6 283.9C106.9 284.0 108.1 283.9 109.4 283.9C110.7 283.9 111.9 284.1 113.2 283.9C114.5 283.7 115.7 282.8 117.0 282.6C118.3 282.4 119.5 282.8 120.8 282.6C122.1 282.4 123.3 281.9 124.6 281.3C125.9 280.8 127.1 280.1 128.4 279.3C129.7 278.6 130.9 277.7 132.2 276.8C133.5 275.9 134.7 274.9 136.0 273.7C137.3 272.6 138.8 271.2 139.8 269.9C140.9 268.7 141.5 267.8 142.3 266.1C143.2 264.5 144.2 261.4 144.9 259.8C145.6 258.2 146.0 257.1 146.6 256.5C147.3 255.9 148.0 256.0 148.7 256.0C149.4 256.0 150.1 256.2 150.7 256.5C151.3 256.9 151.8 257.1 152.5 258.0C153.2 259.0 154.2 260.4 155.0 262.3C155.9 264.3 156.8 267.6 157.5 269.9C158.3 272.3 158.7 274.6 159.3 276.3C159.9 278.0 160.6 279.2 161.3 280.1C162.1 280.9 163.0 281.0 163.9 281.3C164.7 281.7 165.4 282.0 166.4 282.1C167.5 282.2 168.9 282.2 170.2 282.1C171.5 282.0 172.5 281.5 174.0 281.3C175.5 281.2 177.4 281.4 179.1 281.3C180.8 281.3 182.5 281.0 184.1 280.8C185.8 280.7 187.7 280.5 189.2 280.6C190.7 280.7 191.7 281.0 193.0 281.3C194.3 281.7 195.3 282.2 196.8 282.6C198.3 283.0 200.2 283.6 201.9 283.9C203.6 284.2 205.3 284.4 206.9 284.4C208.6 284.4 210.3 284.0 212.0 283.9C213.7 283.7 215.4 283.6 217.1 283.4C218.8 283.2 220.5 282.6 222.1 282.6C223.8 282.6 225.5 283.1 227.2 283.4C228.9 283.7 230.6 284.3 232.3 284.4C234.0 284.5 235.4 284.2 237.6 283.9C239.8 283.6 243.1 282.9 245.2 282.6C247.3 282.3 248.6 282.1 250.3 281.8C252.0 281.6 253.6 281.2 255.3 281.3C257.0 281.5 258.3 282.3 260.4 282.6C262.5 282.9 265.5 283.1 268.0 283.4C270.5 283.7 273.1 284.2 275.6 284.4C278.1 284.6 280.7 284.4 283.2 284.4C285.7 284.4 288.3 284.5 290.8 284.4C293.3 284.3 296.3 284.0 298.4 283.9C300.5 283.7 302.0 283.8 303.5 283.4C305.0 282.9 306.0 282.1 307.3 281.3C308.5 280.6 309.8 279.9 311.1 278.8C312.3 277.8 313.6 276.5 314.9 275.0C316.1 273.5 317.4 271.8 318.7 269.9C319.9 268.0 321.3 265.6 322.5 263.6C323.7 261.6 324.7 259.5 325.8 258.0C326.8 256.6 328.0 255.5 328.8 255.0C329.7 254.4 330.2 254.6 330.8 254.7C331.5 254.9 331.9 255.2 332.6 256.0C333.3 256.9 334.3 258.3 335.1 259.8C336.0 261.3 336.8 263.0 337.7 264.9C338.5 266.8 339.4 269.1 340.2 271.2C341.1 273.3 341.9 275.9 342.7 277.5C343.6 279.2 344.4 280.5 345.3 281.3C346.1 282.2 346.8 282.3 347.8 282.6C348.9 282.9 350.1 283.4 351.6 283.4C353.1 283.4 355.0 282.9 356.7 282.6C358.4 282.4 360.1 282.1 361.7 281.8C363.4 281.6 365.1 281.3 366.8 281.3C368.5 281.4 370.2 281.7 371.9 282.1C373.6 282.5 375.3 283.5 376.9 283.9C378.6 284.3 379.9 284.3 382.0 284.4C384.1 284.5 387.1 284.4 389.6 284.4C392.1 284.4 394.7 284.5 397.2 284.4C399.7 284.3 401.4 283.7 404.8 283.9C408.2 284.0 415.4 284.9 417.5 285.1" stroke="#55a868" stroke-width="1.2" fill="none"/>
<path d="M74.4 278.3C74.9 278.2 76.5 277.8 77.2 277.5C78.0 277.3 78.3 276.7 79.0 277.0C79.7 277.4 80.7 279.1 81.5 279.6C82.4 280.1 83.2 280.2 84.1 280.1C84.9 279.9 85.8 278.7 86.6 278.8C87.4 278.9 88.3 280.2 89.1 280.8C90.0 281.5 90.8 282.5 91.7 282.6C92.5 282.7 93.4 281.2 94.2 281.3C95.0 281.5 95.9 283.2 96.7 283.4C97.6 283.6 98.4 282.3 99.3 282.6C100.1 282.9 101.1 284.8 101.8 285.1C102.5 285.4 102.9 285.2 103.6 284.4C104.2 283.5 105.0 280.9 105.6 280.1C106.2 279.2 106.6 278.9 107.1 279.3C107.6 279.7 108.1 281.8 108.6 282.6C109.2 283.5 109.9 284.1 110.7 284.4C111.4 284.7 112.4 284.7 113.2 284.4C114.0 284.1 115.0 283.0 115.7 282.6C116.5 282.2 116.9 281.8 117.8 281.8C118.6 281.8 119.9 283.1 120.8 282.6C121.7 282.1 122.6 279.9 123.3 278.8C124.1 277.7 124.7 275.8 125.4 275.8C126.0 275.8 126.5 278.5 127.1 278.8C127.7 279.1 128.3 278.6 128.9 277.5C129.5 276.5 130.3 274.2 130.9 272.5C131.6 270.7 132.2 267.5 132.7 266.9C133.3 266.3 133.8 268.6 134.2 268.7C134.7 268.8 135.1 266.9 135.5 267.4C135.9 267.9 136.3 271.3 136.8 271.7C137.3 272.1 137.9 270.9 138.5 269.9C139.2 269.0 139.9 268.0 140.6 266.1C141.2 264.2 141.8 261.1 142.3 258.5C142.8 256.0 143.2 254.5 143.6 250.9C144.0 247.4 144.5 241.3 144.9 237.0C145.3 232.7 145.7 224.5 146.1 225.1C146.6 225.7 147.0 235.2 147.4 240.8C147.8 246.4 148.3 254.1 148.7 258.5C149.1 263.0 149.5 265.3 149.9 267.4C150.4 269.5 150.8 269.9 151.2 271.2C151.6 272.5 152.1 273.5 152.5 275.0C152.9 276.5 153.2 278.8 153.7 280.1C154.3 281.3 155.1 282.6 155.8 282.6C156.4 282.6 157.0 280.5 157.5 280.1C158.0 279.7 158.3 279.4 158.8 280.1C159.3 280.7 159.9 283.0 160.6 283.9C161.2 284.7 162.0 285.4 162.6 285.1C163.2 284.9 163.7 282.9 164.4 282.6C165.0 282.3 165.6 283.4 166.4 283.4C167.2 283.4 168.1 283.2 168.9 282.6C169.8 282.1 170.8 280.9 171.5 280.1C172.1 279.2 172.3 277.3 172.7 277.5C173.2 277.8 173.4 280.5 174.0 281.3C174.6 282.2 175.5 282.5 176.5 282.6C177.6 282.7 179.1 282.1 180.3 281.8C181.6 281.6 183.1 281.5 184.1 281.3C185.2 281.2 185.8 280.9 186.7 280.8C187.5 280.8 188.4 281.0 189.2 280.8C190.1 280.7 191.1 280.0 191.7 280.1C192.4 280.2 192.4 280.7 193.0 281.3C193.6 282.0 194.7 283.5 195.5 283.9C196.4 284.2 197.2 283.3 198.1 283.4C198.9 283.5 199.6 284.2 200.6 284.4C201.7 284.6 202.9 284.5 204.4 284.4C205.9 284.3 207.8 284.0 209.5 283.9C211.2 283.8 213.1 284.0 214.5 283.9C216.0 283.8 217.1 283.6 218.3 283.4C219.6 283.2 221.1 282.9 222.1 282.6C223.2 282.3 223.8 281.1 224.7 281.3C225.5 281.6 226.4 283.2 227.2 283.9C228.1 284.5 228.7 284.8 229.7 285.1C230.8 285.5 232.3 285.9 233.5 285.9C234.8 285.9 236.3 285.5 237.3 285.1C238.4 284.8 239.0 284.3 240.1 283.9C241.2 283.5 242.9 283.0 243.9 282.6C245.0 282.2 245.4 281.5 246.5 281.3C247.5 281.2 249.0 281.9 250.3 281.8C251.5 281.8 253.0 280.8 254.1 280.8C255.1 280.8 255.5 281.4 256.6 281.8C257.7 282.3 259.1 283.2 260.4 283.4C261.7 283.5 262.9 282.6 264.2 282.6C265.5 282.6 266.9 283.1 268.0 283.4C269.1 283.7 269.7 284.3 270.5 284.4C271.4 284.5 272.2 283.3 273.1 283.9C273.9 284.4 274.9 287.3 275.6 287.7C276.3 288.1 276.7 287.0 277.4 286.4C278.0 285.8 278.4 284.2 279.4 283.9C280.4 283.5 281.9 284.4 283.2 284.4C284.5 284.4 285.7 283.9 287.0 283.9C288.3 283.9 289.5 284.2 290.8 284.4C292.1 284.6 293.6 285.3 294.6 285.1C295.7 285.0 296.3 283.8 297.1 283.4C298.0 282.9 298.8 282.5 299.7 282.6C300.5 282.7 301.4 283.9 302.2 283.9C303.1 283.9 303.9 283.2 304.7 282.6C305.6 282.0 306.4 281.1 307.3 280.1C308.1 279.0 309.1 277.8 309.8 276.3C310.5 274.8 311.0 273.3 311.6 271.2C312.1 269.1 312.6 265.1 313.1 263.6C313.6 262.1 313.9 262.4 314.4 262.3C314.8 262.3 315.2 262.3 315.6 263.1C316.1 263.9 316.4 267.1 316.9 267.4C317.4 267.7 318.0 265.9 318.7 264.9C319.3 263.8 320.1 262.6 320.7 261.1C321.3 259.6 321.9 258.1 322.5 256.0C323.1 253.9 323.7 251.4 324.2 248.4C324.8 245.5 325.3 241.6 325.8 238.3C326.2 235.0 326.6 227.8 327.0 228.6C327.5 229.5 327.9 238.8 328.3 243.3C328.7 247.9 329.1 252.0 329.6 256.0C330.0 260.0 330.4 264.9 330.8 267.4C331.3 269.9 331.7 270.8 332.1 271.2C332.5 271.6 332.9 269.3 333.4 269.9C333.8 270.6 334.1 273.3 334.6 275.0C335.1 276.7 335.8 279.4 336.4 280.1C337.0 280.7 337.8 279.2 338.4 278.8C339.1 278.4 339.7 277.6 340.2 277.5C340.7 277.5 341.0 277.7 341.5 278.3C342.0 278.9 342.6 280.5 343.3 281.3C343.9 282.2 344.5 282.9 345.3 283.4C346.0 283.9 347.0 284.3 347.8 284.4C348.7 284.5 349.5 284.0 350.3 283.9C351.2 283.7 352.0 283.8 352.9 283.4C353.7 282.9 354.6 281.7 355.4 281.3C356.3 281.0 357.1 281.0 357.9 281.3C358.8 281.7 359.6 283.2 360.5 283.4C361.3 283.6 362.2 282.9 363.0 282.6C363.9 282.3 364.7 281.6 365.5 281.3C366.4 281.0 367.2 280.8 368.1 280.8C368.9 280.9 369.8 281.4 370.6 281.8C371.5 282.3 372.1 282.9 373.1 283.4C374.2 283.8 375.7 284.3 376.9 284.4C378.2 284.5 379.7 283.5 380.7 283.9C381.8 284.2 382.4 285.9 383.3 286.4C384.1 286.9 385.0 287.1 385.8 286.9C386.7 286.7 387.3 285.6 388.3 285.1C389.4 284.7 390.9 284.6 392.1 284.4C393.4 284.2 394.7 283.9 395.9 283.9C397.2 283.9 398.5 284.5 399.7 284.4C401.0 284.3 402.6 283.5 403.5 283.4C404.5 283.3 404.7 283.4 405.3 283.9C406.0 284.4 406.6 285.8 407.3 286.4C408.1 287.0 409.0 287.7 409.9 287.7C410.7 287.7 411.2 286.7 412.4 286.4C413.7 286.1 416.6 286.0 417.5 285.9" stroke="#4c72b0" stroke-width="1.2" fill="none" stroke-linejoin="round"/>
<path d="M366.5 195.7H379.5" stroke="#4c72b0" stroke-width="1"/>
<text x="384" y="197.8" font-size="5.9" fill="#333">Weekly</text>
<path d="M366.5 204.2H379.5" stroke="#55a868" stroke-width="1"/>
<text x="384" y="206.3" font-size="5.9" fill="#333">Monthly</text>
<path d="M366.5 212.8H379.5" stroke="#c44e52" stroke-width="1"/>
<text x="384" y="214.9" font-size="5.9" fill="#333">Quarterly</text>
<path d="M366.5 221.3H379.5" stroke="#cfcfe8" stroke-width="0.6"/>
<text x="384" y="223.4" font-size="5.9" fill="#333">Daily</text>
<text x="71.3" y="325.7" font-size="6.1" fill="#333" text-anchor="end">0.0</text>
<text x="71.3" y="303.0" font-size="6.1" fill="#333" text-anchor="end">0.5</text>
<text x="71.3" y="280.4" font-size="6.1" fill="#333" text-anchor="end">1.0</text>
<text x="71.3" y="257.7" font-size="6.1" fill="#333" text-anchor="end">1.5</text>
<text x="71.3" y="235.0" font-size="6.1" fill="#333" text-anchor="end">2.0</text>
<text x="71.3" y="212.3" font-size="6.1" fill="#333" text-anchor="end">2.5</text>
<text x="71.3" y="189.7" font-size="6.1" fill="#333" text-anchor="end">3.0</text>
<text x="90.0" y="331.5" font-size="6" fill="#333" text-anchor="middle">Sep</text>
<text x="90.0" y="338.2" font-size="6" fill="#333" text-anchor="middle">2015</text>
<text x="120.1" y="331.5" font-size="6" fill="#333" text-anchor="middle">Nov</text>
<text x="120.1" y="338.2" font-size="6" fill="#333" text-anchor="middle">2015</text>
<text x="150.1" y="331.5" font-size="6" fill="#333" text-anchor="middle">Jan</text>
<text x="150.1" y="338.2" font-size="6" fill="#333" text-anchor="middle">2016</text>
<text x="180.2" y="331.5" font-size="6" fill="#333" text-anchor="middle">Mar</text>
<text x="180.2" y="338.2" font-size="6" fill="#333" text-anchor="middle">2016</text>
<text x="210.3" y="331.5" font-size="6" fill="#333" text-anchor="middle">May</text>
<text x="210.3" y="338.2" font-size="6" fill="#333" text-anchor="middle">2016</text>
<text x="240.3" y="331.5" font-size="6" fill="#333" text-anchor="middle">Jul</text>
<text x="240.3" y="338.2" font-size="6" fill="#333" text-anchor="middle">2016</text>
<text x="270.4" y="331.5" font-size="6" fill="#333" text-anchor="middle">Sep</text>
<text x="270.4" y="338.2" font-size="6" fill="#333" text-anchor="middle">2016</text>
<text x="300.5" y="331.5" font-size="6" fill="#333" text-anchor="middle">Nov</text>
<text x="300.5" y="338.2" font-size="6" fill="#333" text-anchor="middle">2016</text>
<text x="330.6" y="331.5" font-size="6" fill="#333" text-anchor="middle">Jan</text>
<text x="330.6" y="338.2" font-size="6" fill="#333" text-anchor="middle">2017</text>
<text x="360.6" y="331.5" font-size="6" fill="#333" text-anchor="middle">Mar</text>
<text x="360.6" y="338.2" font-size="6" fill="#333" text-anchor="middle">2017</text>
<text x="390.7" y="331.5" font-size="6" fill="#333" text-anchor="middle">May</text>
<text x="390.7" y="338.2" font-size="6" fill="#333" text-anchor="middle">2017</text>
</svg>
<div class="abs" style="left:51px;top:349.6px;font-weight:bold;font-size:10.55px;line-height:13px;color:#000;white-space:nowrap">Aggregate Streams for precise dates in ground truth model</div>
<div class="j-prompt" style="left:18.6px;top:372.1px;color:#303f9f">In [23]:</div>
<div class="j-in" style="left:49px;top:368.6px;width:410px;height:90px"></div>
<pre class="j-code" style="left:51.4px;top:372.1px"><span class="k">def</span> <span class="f">resample</span>(resampleData, gt):
    <span class="s">'''</span>
<span class="s">    input:</span>
<span class="s">     - resampleData: daily time series</span>
<span class="s">     - gt: ground truth (quarterly or monthly)</span>
<span class="s">    output:</span>
<span class="s">     - newDF: data frame with column 'Signal' aggregated in the corresponding timeframe in the ground truth</span>
<span class="s">    '''</span>
    newDF = []
    <span class="k">if</span> resampleData.index[<span class="n">0</span>] &gt; gt.index[<span class="n">0</span>]:
        gt = gt[resampleData.index[<span class="n">0</span>] - dt.timedelta(<span class="n">1</span>):]
    <span class="k">else</span>:</pre>
<svg class="abs" style="left:0;top:0" width="472" height="445.5" viewBox="9 7 472 445.5"><path d="M355.0 452.1L365.0 449.4L375.0 447.4L385.0 442.9L395.0 438.4L404.0 434.0L408.0 432.7L413.0 437.4L419.5 445.2L425.5 432.0L430.5 439.0L435.5 441.0L441.0 439.4L447.0 437.8L463.0 434.4L480.0 432.4L485.0 430.4L485.0 437.0L480.0 439.0L463.0 441.0L447.0 444.4L441.0 446.0L435.5 447.6L430.5 445.6L425.5 438.6L419.5 451.8L413.0 444.0L408.0 439.3L404.0 440.6L395.0 445.0L385.0 449.5L375.0 454.0L365.0 456.0L355.0 458.7Z" fill="#ffdca0" fill-opacity=".38"/></svg>
</div>
<div id="excel">
<div class="xl-green"></div>
<div class="xl-tabsel"></div>
<div class="tl" style="left:7.300000000000011px;background:#df6a66"></div>
<div class="tl" style="left:19.30000000000001px;background:#f0b124"></div>
<div class="tl" style="left:31.30000000000001px;background:#56b455"></div>
<div class="abs" style="left:9.700000000000045px;top:6.199999999999999px;width:1.8px;height:1.8px;border-radius:50%;background:#3a1010"></div>
<svg class="abs" style="left:0;top:0" width="336" height="30" viewBox="414 7 336 30" fill="none" stroke="#fff" stroke-opacity=".92" stroke-width=".95">
<path d="M472.4 10.3h4.4l2.2 2.2v5.2h-6.6z M470.9 10.3v7.4"/><path d="M476.6 10.3v2.4h2.4" stroke-width=".8"/>
<path d="M489.2 10.2h7.4v7.5h-7.4z"/><path d="M490.9 10.4v2.7h4v-2.7 M491.1 17.5v-2.4h3.6v2.4" stroke-width=".85"/>
<path d="M508 13.9c2.6-3.2 6.6-1.6 6.3 1.2c-.2 1.6-1.6 2.3-2.9 2.2" stroke-width="1.2"/><path d="M506.3 12.3l.5 4.2l3.6-1.6z" fill="#fff" stroke="none"/>
<path d="M519.7 12.8h2.8l-1.4 1.9z" fill="#fff" stroke="none"/>
<path d="M532.9 11.9a3.3 3.3 0 1 0 3.6-.4" stroke-width="1.2"/><path d="M535 9.6l3 1.7l-2.7 2.1z" fill="#fff" stroke="none"/>
<path d="M551 11.6h4.4" stroke-width=".9"/><path d="M551 13.2h4.4l-2.2 2.4z" fill="#fff" stroke="none"/>
<path d="M738.6 10.6h3.6l1.8 1.8v5.6h-5.4z" fill="#fff" stroke="none"/>
</svg>
<div class="xl-tab" style="left:13px">Home</div>
<div class="xl-tab" style="left:49px">Insert</div>
<div class="xl-tab" style="left:84.60000000000002px">Page Layout</div>
<div class="xl-tab" style="left:144px">Formulas</div>
<div class="xl-tab" style="left:192.70000000000005px">Data</div>
<div class="xl-tab" style="left:225px">Review</div>
<div class="xl-tab" style="left:266px">View</div>
<div class="xl-tab" style="left:300px">Chart Design</div>
<div class="xl-fbar"></div>
<div class="abs" style="left:5.699999999999989px;top:32.4px;font-size:7.4px;color:#111;line-height:9px">Chart 2</div>
<svg class="abs" style="left:0;top:28.5px" width="336" height="17" viewBox="414 35.5 336 17">
<path d="M456.8 42.3l1.8-2.6l1.8 2.6z M456.8 45.2l1.8 2.6l1.8-2.6z" fill="#555"/>
<path d="M464.3 38v12 M519.3 38v12" stroke="#d0d0d0" stroke-width="1"/>
<path d="M473.2 41.2l5 5.6 M478.2 41.2l-5 5.6" stroke="#bdbdbd" stroke-width="1" fill="none"/>
<path d="M489.8 44.6l2 2.4l4.4-5.8" stroke="#bdbdbd" stroke-width="1" fill="none"/>
</svg>
<div class="abs" style="left:94px;top:30.200000000000003px;font:italic 10.5px/12px 'Liberation Serif',serif;color:#555">f<span style="font-size:8px">x</span></div>
<div class="xl-colhdr"></div>
<svg class="abs" style="left:3.5px;top:48px" width="9" height="9"><path d="M8 0.5v7.5h-7.5z" fill="#c9c9c9"/></svg>
<div class="xl-cl" style="left:10.600000000000023px">A</div>
<div class="xl-cl" style="left:37px">B</div>
<div class="xl-cl" style="left:81px">C</div>
<div class="xl-cl" style="left:127.29999999999995px">D</div>
<div class="xl-cl" style="left:170.5px">E</div>
<div class="xl-cl" style="left:213.5px">F</div>
<div class="xl-cl" style="left:256.5px">G</div>
<div class="xl-cl" style="left:299.79999999999995px">H</div>
<div class="abs" style="left:13.600000000000023px;top:46.5px;width:1px;height:10px;background:#cfcfcf"></div>
<div class="abs" style="left:27px;top:46.5px;width:1px;height:10px;background:#cfcfcf"></div>
<div class="abs" style="left:66.30000000000001px;top:46.5px;width:1px;height:10px;background:#cfcfcf"></div>
<div class="abs" style="left:115.79999999999995px;top:46.5px;width:1px;height:10px;background:#cfcfcf"></div>
<div class="abs" style="left:159px;top:46.5px;width:1px;height:10px;background:#cfcfcf"></div>
<div class="abs" style="left:202.20000000000005px;top:46.5px;width:1px;height:10px;background:#cfcfcf"></div>
<div class="abs" style="left:245.29999999999995px;top:46.5px;width:1px;height:10px;background:#cfcfcf"></div>
<div class="abs" style="left:288.5px;top:46.5px;width:1px;height:10px;background:#cfcfcf"></div>
<div class="abs" style="left:331.70000000000005px;top:46.5px;width:1px;height:10px;background:#cfcfcf"></div>
<div class="abs" style="left:0;top:57.5px;width:13.6px;height:312.08000000000004px;background:#f4f4f4;border-right:1px solid #d8d8d8;box-sizing:border-box"></div>
<div class="xl-rn" style="top:57.50px">1</div>
<div class="abs" style="left:0;top:66.40px;width:13px;height:1px;background:#e6e6e6"></div>
<div class="xl-rn" style="top:66.90px">2</div>
<div class="abs" style="left:0;top:75.80px;width:13px;height:1px;background:#e6e6e6"></div>
<div class="xl-rn" style="top:76.30px">3</div>
<div class="abs" style="left:0;top:85.20px;width:13px;height:1px;background:#e6e6e6"></div>
<div class="xl-rn" style="top:85.70px">4</div>
<div class="abs" style="left:0;top:94.60px;width:13px;height:1px;background:#e6e6e6"></div>
<div class="xl-rn" style="top:95.10px">5</div>
<div class="abs" style="left:0;top:104.00px;width:13px;height:1px;background:#e6e6e6"></div>
<div class="xl-rn" style="top:104.50px">6</div>
<div class="abs" style="left:0;top:113.40px;width:13px;height:1px;background:#e6e6e6"></div>
<div class="xl-rn" style="top:113.90px">7</div>
<div class="abs" style="left:0;top:122.80px;width:13px;height:1px;background:#e6e6e6"></div>
<div class="xl-rn" style="top:123.30px">8</div>
<div class="abs" style="left:0;top:132.20px;width:13px;height:1px;background:#e6e6e6"></div>
<div class="xl-rn" style="top:132.70px">9</div>
<div class="abs" style="left:0;top:141.60px;width:13px;height:1px;background:#e6e6e6"></div>
<div class="xl-rn" style="top:142.10px">10</div>
<div class="abs" style="left:0;top:151.00px;width:13px;height:1px;background:#e6e6e6"></div>
<div class="xl-rn" style="top:151.50px">11</div>
<div class="abs" style="left:0;top:160.40px;width:13px;height:1px;background:#e6e6e6"></div>
<div class="xl-rn" style="top:160.90px">12</div>
<div class="abs" style="left:0;top:169.80px;width:13px;height:1px;background:#e6e6e6"></div>
<div class="xl-rn" style="top:170.30px">13</div>
<div class="abs" style="left:0;top:179.20px;width:13px;height:1px;background:#e6e6e6"></div>
<div class="xl-rn" style="top:179.70px">14</div>
<div class="abs" style="left:0;top:188.60px;width:13px;height:1px;background:#e6e6e6"></div>
<div class="xl-rn" style="top:189.10px">15</div>
<div class="abs" style="left:0;top:198.00px;width:13px;height:1px;background:#e6e6e6"></div>
<div class="xl-rn" style="top:198.50px">16</div>
<div class="abs" style="left:0;top:207.40px;width:13px;height:1px;background:#e6e6e6"></div>
<div class="xl-rn" style="top:207.90px">17</div>
<div class="abs" style="left:0;top:216.80px;width:13px;height:1px;background:#e6e6e6"></div>
<div class="xl-rn" style="top:217.30px">18</div>
<div class="abs" style="left:0;top:226.20px;width:13px;height:1px;background:#e6e6e6"></div>
<div class="xl-rn" style="top:226.70px">19</div>
<div class="abs" style="left:0;top:235.60px;width:13px;height:1px;background:#e6e6e6"></div>
<div class="xl-rn" style="top:236.10px">20</div>
<div class="abs" style="left:0;top:245.00px;width:13px;height:1px;background:#e6e6e6"></div>
<div class="xl-rn" style="top:245.50px">21</div>
<div class="abs" style="left:0;top:254.40px;width:13px;height:1px;background:#e6e6e6"></div>
<div class="xl-rn" style="top:254.90px">22</div>
<div class="abs" style="left:0;top:263.80px;width:13px;height:1px;background:#e6e6e6"></div>
<div class="xl-rn" style="top:264.30px">23</div>
<div class="abs" style="left:0;top:273.20px;width:13px;height:1px;background:#e6e6e6"></div>
<div class="xl-rn" style="top:273.70px">24</div>
<div class="abs" style="left:0;top:282.60px;width:13px;height:1px;background:#e6e6e6"></div>
<div class="xl-rn" style="top:283.10px">25</div>
<div class="abs" style="left:0;top:292.00px;width:13px;height:1px;background:#e6e6e6"></div>
<div class="xl-rn" style="top:292.50px">26</div>
<div class="abs" style="left:0;top:301.40px;width:13px;height:1px;background:#e6e6e6"></div>
<div class="xl-rn" style="top:301.90px">27</div>
<div class="abs" style="left:0;top:310.80px;width:13px;height:1px;background:#e6e6e6"></div>
<div class="xl-rn" style="top:311.30px">28</div>
<div class="abs" style="left:0;top:320.20px;width:13px;height:1px;background:#e6e6e6"></div>
<div class="xl-rn" style="top:320.70px">29</div>
<div class="abs" style="left:0;top:329.60px;width:13px;height:1px;background:#e6e6e6"></div>
<div class="xl-rn" style="top:330.10px">30</div>
<div class="abs" style="left:0;top:339.00px;width:13px;height:1px;background:#e6e6e6"></div>
<div class="xl-rn" style="top:339.50px">31</div>
<div class="abs" style="left:0;top:348.40px;width:13px;height:1px;background:#e6e6e6"></div>
<div class="xl-rn" style="top:348.90px">32</div>
<div class="abs" style="left:0;top:357.80px;width:13px;height:1px;background:#e6e6e6"></div>
<div class="xl-rn" style="top:358.30px">33</div>
<div class="abs" style="left:0;top:367.20px;width:13px;height:1px;background:#e6e6e6"></div>
<div class="abs" style="left:26.600000000000023px;top:75.80px;width:40.299999999999955px;height:294.40px;background:#efebf9;border:1px solid #7a5cc4;border-bottom:none;box-sizing:border-box"></div>
<div class="abs" style="left:115.79999999999995px;top:76.30px;width:43.60000000000002px;height:294.40px;background:#eef3fc;border:1px solid #6b9be0;border-bottom:none;box-sizing:border-box"></div>
<div class="abs" style="left:115.79999999999995px;top:66.60px;width:43.60000000000002px;height:10.00px;background:#e4e4e4;border:1px solid #cf6650;box-sizing:border-box"></div>
<div class="abs" style="left:25.70px;top:74.70px;width:2.6px;height:2.6px;background:#7a5cc4"></div>
<div class="abs" style="left:65.20px;top:74.70px;width:2.6px;height:2.6px;background:#7a5cc4"></div>
<div class="abs" style="left:114.60px;top:65.70px;width:2.6px;height:2.6px;background:#c8553f"></div>
<div class="abs" style="left:157.80px;top:65.70px;width:2.6px;height:2.6px;background:#c8553f"></div>
<div class="abs" style="left:114.60px;top:75.10px;width:2.6px;height:2.6px;background:#c8553f"></div>
<div class="abs" style="left:157.80px;top:75.10px;width:2.6px;height:2.6px;background:#c8553f"></div>
<div class="abs" style="left:67px;top:75.20px;width:48px;height:1.5px;background:#555"></div>
<div class="abs" style="left:160px;top:75.20px;width:180px;height:1.5px;background:#555"></div>
<div class="xl-h" style="left:71.69999999999999px;top:66.90px">FOX</div>
<div class="xl-h" style="left:117.5px;top:66.90px">F</div>
<div class="xl-h" style="left:160.60000000000002px;top:66.90px">FLO</div>
<div class="xl-h" style="left:203.60000000000002px;top:66.90px">FLS</div>
<div class="xl-h" style="left:246.29999999999995px;top:66.90px">GM</div>
<div class="xl-h" style="left:289.5px;top:66.90px">GWW</div>
<div class="xl-c" style="left:26px;width:38.60000000000002px;top:76.30px;font-size:6.95px">8/1/15</div>
<div class="xl-c" style="left:67.2px;width:48px;top:76.30px">0.799722104</div>
<div class="xl-c" style="left:110.3px;width:48px;top:76.30px">0.798390658</div>
<div class="xl-c" style="left:153.4px;width:48px;top:76.30px">0.971518668</div>
<div class="xl-c" style="left:196.5px;width:48px;top:76.30px">0.203548134</div>
<div class="xl-c" style="left:240.0px;width:48px;top:76.30px">0.878128079</div>
<div class="xl-c" style="left:283.0px;width:48px;top:76.30px">0.655888708</div>
<div class="xl-c" style="left:26px;width:38.60000000000002px;top:85.70px;font-size:6.95px">8/2/15</div>
<div class="xl-c" style="left:67.2px;width:48px;top:85.70px">0.597243439</div>
<div class="xl-c" style="left:110.3px;width:48px;top:85.70px">0.495280814</div>
<div class="xl-c" style="left:153.4px;width:48px;top:85.70px">0.886240574</div>
<div class="xl-c" style="left:196.5px;width:48px;top:85.70px">0.018494859</div>
<div class="xl-c" style="left:240.0px;width:48px;top:85.70px">0.255324059</div>
<div class="xl-c" style="left:283.0px;width:48px;top:85.70px">0.453748417</div>
<div class="xl-c" style="left:26px;width:38.60000000000002px;top:95.10px;font-size:6.95px">8/3/15</div>
<div class="xl-c" style="left:67.2px;width:48px;top:95.10px">0.503904764</div>
<div class="xl-c" style="left:110.3px;width:48px;top:95.10px">1.345955222</div>
<div class="xl-c" style="left:153.4px;width:48px;top:95.10px">1.246700092</div>
<div class="xl-c" style="left:196.5px;width:48px;top:95.10px">0.630327005</div>
<div class="xl-c" style="left:240.0px;width:48px;top:95.10px">1.263779741</div>
<div class="xl-c" style="left:283.0px;width:48px;top:95.10px">1.41441686</div>
<div class="xl-c" style="left:26px;width:38.60000000000002px;top:104.50px;font-size:6.95px">8/4/15</div>
<div class="xl-c" style="left:67.2px;width:48px;top:104.50px">1.108064925</div>
<div class="xl-c" style="left:110.3px;width:48px;top:104.50px">1.39643046</div>
<div class="xl-c" style="left:153.4px;width:48px;top:104.50px">1.197444448</div>
<div class="xl-c" style="left:196.5px;width:48px;top:104.50px">0.965302468</div>
<div class="xl-c" style="left:240.0px;width:48px;top:104.50px">1.060033282</div>
<div class="xl-c" style="left:283.0px;width:48px;top:104.50px">1.395690715</div>
<div class="xl-c" style="left:26px;width:38.60000000000002px;top:113.90px;font-size:6.95px">8/5/15</div>
<div class="xl-c" style="left:67.2px;width:48px;top:113.90px">1.025019235</div>
<div class="xl-c" style="left:110.3px;width:48px;top:113.90px">1.496252228</div>
<div class="xl-c" style="left:153.4px;width:48px;top:113.90px">1.258302654</div>
<div class="xl-c" style="left:196.5px;width:48px;top:113.90px">0.917654145</div>
<div class="xl-c" style="left:240.0px;width:48px;top:113.90px">1.354625145</div>
<div class="xl-c" style="left:283.0px;width:48px;top:113.90px">1.384027001</div>
<div class="xl-c" style="left:26px;width:38.60000000000002px;top:123.30px;font-size:6.95px">8/6/15</div>
<div class="xl-c" style="left:67.2px;width:48px;top:123.30px">1.116338361</div>
<div class="xl-c" style="left:110.3px;width:48px;top:123.30px">1.493793716</div>
<div class="xl-c" style="left:153.4px;width:48px;top:123.30px">1.20671094</div>
<div class="xl-c" style="left:196.5px;width:48px;top:123.30px">0.701846837</div>
<div class="xl-c" style="left:240.0px;width:48px;top:123.30px">1.133829874</div>
<div class="xl-c" style="left:283.0px;width:48px;top:123.30px">1.365887345</div>
<div class="xl-c" style="left:26px;width:38.60000000000002px;top:132.70px;font-size:6.95px">8/7/15</div>
<div class="xl-c" style="left:67.2px;width:48px;top:132.70px">1.00912636</div>
<div class="xl-c" style="left:110.3px;width:48px;top:132.70px">1.159606734</div>
<div class="xl-c" style="left:153.4px;width:48px;top:132.70px">1.156086568</div>
<div class="xl-c" style="left:196.5px;width:48px;top:132.70px">0.803562482</div>
<div class="xl-c" style="left:240.0px;width:48px;top:132.70px">1.223249997</div>
<div class="xl-c" style="left:283.0px;width:48px;top:132.70px">1.321436801</div>
<div class="xl-c" style="left:26px;width:38.60000000000002px;top:142.10px;font-size:6.95px">8/8/15</div>
<div class="xl-c" style="left:67.2px;width:48px;top:142.10px">0.816576894</div>
<div class="xl-c" style="left:110.3px;width:48px;top:142.10px">0.879630471</div>
<div class="xl-c" style="left:153.4px;width:48px;top:142.10px">0.983157942</div>
<div class="xl-c" style="left:196.5px;width:48px;top:142.10px">0.169143585</div>
<div class="xl-c" style="left:240.0px;width:48px;top:142.10px">0.838495348</div>
<div class="xl-c" style="left:283.0px;width:48px;top:142.10px">0.604416902</div>
<div class="xl-c" style="left:26px;width:38.60000000000002px;top:151.50px;font-size:6.95px">8/9/15</div>
<div class="xl-c" style="left:67.2px;width:48px;top:151.50px">0.599544128</div>
<div class="xl-c" style="left:110.3px;width:48px;top:151.50px">0.558868039</div>
<div class="xl-c" style="left:153.4px;width:48px;top:151.50px">0.969036994</div>
<div class="xl-c" style="left:196.5px;width:48px;top:151.50px">0.036947472</div>
<div class="xl-c" style="left:240.0px;width:48px;top:151.50px">0.185478146</div>
<div class="xl-c" style="left:283.0px;width:48px;top:151.50px">0.482788677</div>
<div class="xl-c" style="left:26px;width:38.60000000000002px;top:160.90px;font-size:6.95px">8/10/15</div>
<div class="xl-c" style="left:67.2px;width:48px;top:160.90px">0.489225099</div>
<div class="xl-c" style="left:110.3px;width:48px;top:160.90px">1.277500958</div>
<div class="xl-c" style="left:153.4px;width:48px;top:160.90px">1.18558132</div>
<div class="xl-c" style="left:196.5px;width:48px;top:160.90px">0.772642407</div>
<div class="xl-c" style="left:240.0px;width:48px;top:160.90px">1.150301726</div>
<div class="xl-c" style="left:283.0px;width:48px;top:160.90px">1.434210806</div>
<div class="xl-c" style="left:26px;width:38.60000000000002px;top:170.30px;font-size:6.95px">8/11/15</div>
<div class="xl-c" style="left:67.2px;width:48px;top:170.30px">1.062471011</div>
<div class="xl-c" style="left:110.3px;width:48px;top:170.30px">1.361450617</div>
<div class="xl-c" style="left:153.4px;width:48px;top:170.30px">1.102697422</div>
<div class="xl-c" style="left:196.5px;width:48px;top:170.30px">0.783722977</div>
<div class="xl-c" style="left:240.0px;width:48px;top:170.30px">1.076372851</div>
<div class="xl-c" style="left:283.0px;width:48px;top:170.30px">1.332845108</div>
<div class="xl-c" style="left:26px;width:38.60000000000002px;top:179.70px;font-size:6.95px">8/12/15</div>
<div class="xl-c" style="left:67.2px;width:48px;top:179.70px">1.096301853</div>
<div class="xl-c" style="left:110.3px;width:48px;top:179.70px">1.472413006</div>
<div class="xl-c" style="left:153.4px;width:48px;top:179.70px">1.187973051</div>
<div class="xl-c" style="left:196.5px;width:48px;top:179.70px">0.772586159</div>
<div class="xl-c" style="left:240.0px;width:48px;top:179.70px">1.193360299</div>
<div class="xl-c" style="left:283.0px;width:48px;top:179.70px">1.513502751</div>
<div class="xl-c" style="left:26px;width:38.60000000000002px;top:189.10px;font-size:6.95px">8/13/15</div>
<div class="xl-c" style="left:67.2px;width:48px;top:189.10px">0.990042577</div>
<div class="xl-c" style="left:110.3px;width:48px;top:189.10px">1.394992244</div>
<div class="xl-c" style="left:153.4px;width:48px;top:189.10px">1.270827164</div>
<div class="xl-c" style="left:196.5px;width:48px;top:189.10px">0.729968664</div>
<div class="xl-c" style="left:240.0px;width:48px;top:189.10px">1.094763109</div>
<div class="xl-c" style="left:283.0px;width:48px;top:189.10px">1.459962675</div>
<div class="xl-c" style="left:26px;width:38.60000000000002px;top:198.50px;font-size:6.95px">8/14/15</div>
<div class="xl-c" style="left:67.2px;width:48px;top:198.50px">0.935315601</div>
<div class="xl-c" style="left:110.3px;width:48px;top:198.50px">1.299582096</div>
<div class="xl-c" style="left:153.4px;width:48px;top:198.50px">1.090904966</div>
<div class="xl-c" style="left:196.5px;width:48px;top:198.50px">0.634036753</div>
<div class="xl-c" style="left:240.0px;width:48px;top:198.50px">1.125768633</div>
<div class="xl-c" style="left:283.0px;width:48px;top:198.50px">1.43333221</div>
<div class="xl-c" style="left:26px;width:38.60000000000002px;top:207.90px;font-size:6.95px">8/15/15</div>
<div class="xl-c" style="left:67.2px;width:48px;top:207.90px">0.752806467</div>
<div class="xl-c" style="left:110.3px;width:48px;top:207.90px">0.791056739</div>
<div class="xl-c" style="left:153.4px;width:48px;top:207.90px">0.806317735</div>
<div class="xl-c" style="left:196.5px;width:48px;top:207.90px">0.214935037</div>
<div class="xl-c" style="left:240.0px;width:48px;top:207.90px">0.933736659</div>
<div class="xl-c" style="left:283.0px;width:48px;top:207.90px">0.983207085</div>
<div class="xl-c" style="left:26px;width:38.60000000000002px;top:217.30px;font-size:6.95px">8/16/15</div>
<div class="xl-c" style="left:67.2px;width:48px;top:217.30px">0.503332758</div>
<div class="xl-c" style="left:110.3px;width:48px;top:217.30px">0.515231091</div>
<div class="xl-c" style="left:153.4px;width:48px;top:217.30px">0.94992887</div>
<div class="xl-c" style="left:196.5px;width:48px;top:217.30px">0.017915774</div>
<div class="xl-c" style="left:240.0px;width:48px;top:217.30px">0.230466325</div>
<div class="xl-c" style="left:283.0px;width:48px;top:217.30px">0.673644804</div>
<div class="xl-c" style="left:26px;width:38.60000000000002px;top:226.70px;font-size:6.95px">8/17/15</div>
<div class="xl-c" style="left:67.2px;width:48px;top:226.70px">0.555703415</div>
<div class="xl-c" style="left:110.3px;width:48px;top:226.70px">1.294497607</div>
<div class="xl-c" style="left:153.4px;width:48px;top:226.70px">1.088456929</div>
<div class="xl-c" style="left:196.5px;width:48px;top:226.70px">0.956027086</div>
<div class="xl-c" style="left:240.0px;width:48px;top:226.70px">1.07061387</div>
<div class="xl-c" style="left:283.0px;width:48px;top:226.70px">1.310024986</div>
<div class="xl-c" style="left:26px;width:38.60000000000002px;top:236.10px;font-size:6.95px">8/18/15</div>
<div class="xl-c" style="left:67.2px;width:48px;top:236.10px">1.142998463</div>
<div class="xl-c" style="left:110.3px;width:48px;top:236.10px">1.28158499</div>
<div class="xl-c" style="left:153.4px;width:48px;top:236.10px">1.061655911</div>
<div class="xl-c" style="left:196.5px;width:48px;top:236.10px">0.950699516</div>
<div class="xl-c" style="left:240.0px;width:48px;top:236.10px">1.101359743</div>
<div class="xl-c" style="left:283.0px;width:48px;top:236.10px">1.372931444</div>
<div class="xl-c" style="left:26px;width:38.60000000000002px;top:245.50px;font-size:6.95px">8/19/15</div>
<div class="xl-c" style="left:67.2px;width:48px;top:245.50px">1.068485003</div>
<div class="xl-c" style="left:110.3px;width:48px;top:245.50px">1.291552452</div>
<div class="xl-c" style="left:153.4px;width:48px;top:245.50px">1.221707021</div>
<div class="xl-c" style="left:196.5px;width:48px;top:245.50px">0.985281552</div>
<div class="xl-c" style="left:240.0px;width:48px;top:245.50px">1.218084777</div>
<div class="xl-c" style="left:283.0px;width:48px;top:245.50px">1.439222318</div>
<div class="xl-c" style="left:26px;width:38.60000000000002px;top:254.90px;font-size:6.95px">8/20/15</div>
<div class="xl-c" style="left:67.2px;width:48px;top:254.90px">1.087247429</div>
<div class="xl-c" style="left:110.3px;width:48px;top:254.90px">1.340242595</div>
<div class="xl-c" style="left:153.4px;width:48px;top:254.90px">1.165627876</div>
<div class="xl-c" style="left:196.5px;width:48px;top:254.90px">0.869348346</div>
<div class="xl-c" style="left:240.0px;width:48px;top:254.90px">1.289834724</div>
<div class="xl-c" style="left:283.0px;width:48px;top:254.90px">1.390981503</div>
<div class="xl-c" style="left:26px;width:38.60000000000002px;top:264.30px;font-size:6.95px">8/21/15</div>
<div class="xl-c" style="left:67.2px;width:48px;top:264.30px">0.952556947</div>
<div class="xl-c" style="left:110.3px;width:48px;top:264.30px">1.275692391</div>
<div class="xl-c" style="left:153.4px;width:48px;top:264.30px">1.116569476</div>
<div class="xl-c" style="left:196.5px;width:48px;top:264.30px">0.811191289</div>
<div class="xl-c" style="left:240.0px;width:48px;top:264.30px">1.221666194</div>
<div class="xl-c" style="left:283.0px;width:48px;top:264.30px">1.510316912</div>
<div class="xl-c" style="left:26px;width:38.60000000000002px;top:273.70px;font-size:6.95px">8/22/15</div>
<div class="xl-c" style="left:67.2px;width:48px;top:273.70px">0.795041636</div>
<div class="xl-c" style="left:110.3px;width:48px;top:273.70px">0.687144423</div>
<div class="xl-c" style="left:153.4px;width:48px;top:273.70px">0.87139283</div>
<div class="xl-c" style="left:196.5px;width:48px;top:273.70px">0.220731777</div>
<div class="xl-c" style="left:240.0px;width:48px;top:273.70px">0.857700025</div>
<div class="xl-c" style="left:283.0px;width:48px;top:273.70px">0.751633047</div>
<div class="xl-c" style="left:26px;width:38.60000000000002px;top:283.10px;font-size:6.95px">8/23/15</div>
<div class="xl-c" style="left:67.2px;width:48px;top:283.10px">0.533266146</div>
<div class="xl-c" style="left:110.3px;width:48px;top:283.10px">0.522542863</div>
<div class="xl-c" style="left:153.4px;width:48px;top:283.10px">0.941747079</div>
<div class="xl-c" style="left:196.5px;width:48px;top:283.10px">0.130616613</div>
<div class="xl-c" style="left:240.0px;width:48px;top:283.10px">0.158070994</div>
<div class="xl-c" style="left:283.0px;width:48px;top:283.10px">0.577211055</div>
<div class="xl-c" style="left:26px;width:38.60000000000002px;top:292.50px;font-size:6.95px">8/24/15</div>
<div class="xl-c" style="left:67.2px;width:48px;top:292.50px">0.485735994</div>
<div class="xl-c" style="left:110.3px;width:48px;top:292.50px">1.238802002</div>
<div class="xl-c" style="left:153.4px;width:48px;top:292.50px">1.003770782</div>
<div class="xl-c" style="left:196.5px;width:48px;top:292.50px">0.607749653</div>
<div class="xl-c" style="left:240.0px;width:48px;top:292.50px">1.129798814</div>
<div class="xl-c" style="left:283.0px;width:48px;top:292.50px">1.361382857</div>
<div class="xl-c" style="left:26px;width:38.60000000000002px;top:301.90px;font-size:6.95px">8/25/15</div>
<div class="xl-c" style="left:67.2px;width:48px;top:301.90px">1.050280692</div>
<div class="xl-c" style="left:110.3px;width:48px;top:301.90px">1.325086996</div>
<div class="xl-c" style="left:153.4px;width:48px;top:301.90px">1.144783658</div>
<div class="xl-c" style="left:196.5px;width:48px;top:301.90px">0.777587194</div>
<div class="xl-c" style="left:240.0px;width:48px;top:301.90px">1.004032035</div>
<div class="xl-c" style="left:283.0px;width:48px;top:301.90px">1.371767379</div>
<div class="xl-c" style="left:26px;width:38.60000000000002px;top:311.30px;font-size:6.95px">8/26/15</div>
<div class="xl-c" style="left:67.2px;width:48px;top:311.30px">1.095384149</div>
<div class="xl-c" style="left:110.3px;width:48px;top:311.30px">1.398243667</div>
<div class="xl-c" style="left:153.4px;width:48px;top:311.30px">1.205952278</div>
<div class="xl-c" style="left:196.5px;width:48px;top:311.30px">0.853636029</div>
<div class="xl-c" style="left:240.0px;width:48px;top:311.30px">1.146504459</div>
<div class="xl-c" style="left:283.0px;width:48px;top:311.30px">1.457696188</div>
<div class="xl-c" style="left:26px;width:38.60000000000002px;top:320.70px;font-size:6.95px">8/27/15</div>
<div class="xl-c" style="left:67.2px;width:48px;top:320.70px">1.063363571</div>
<div class="xl-c" style="left:110.3px;width:48px;top:320.70px">1.323543039</div>
<div class="xl-c" style="left:153.4px;width:48px;top:320.70px">1.218381906</div>
<div class="xl-c" style="left:196.5px;width:48px;top:320.70px">0.930287317</div>
<div class="xl-c" style="left:240.0px;width:48px;top:320.70px">1.24165055</div>
<div class="xl-c" style="left:283.0px;width:48px;top:320.70px">1.299471511</div>
<div class="xl-c" style="left:26px;width:38.60000000000002px;top:330.10px;font-size:6.95px">8/28/15</div>
<div class="xl-c" style="left:67.2px;width:48px;top:330.10px">1.00892793</div>
<div class="xl-c" style="left:110.3px;width:48px;top:330.10px">1.353138129</div>
<div class="xl-c" style="left:153.4px;width:48px;top:330.10px">1.036621247</div>
<div class="xl-c" style="left:196.5px;width:48px;top:330.10px">0.801115571</div>
<div class="xl-c" style="left:240.0px;width:48px;top:330.10px">1.220202149</div>
<div class="xl-c" style="left:283.0px;width:48px;top:330.10px">1.3866823</div>
<div class="xl-c" style="left:26px;width:38.60000000000002px;top:339.50px;font-size:6.95px">8/29/15</div>
<div class="xl-c" style="left:67.2px;width:48px;top:339.50px">0.71567252</div>
<div class="xl-c" style="left:110.3px;width:48px;top:339.50px">0.766784489</div>
<div class="xl-c" style="left:153.4px;width:48px;top:339.50px">0.825203856</div>
<div class="xl-c" style="left:196.5px;width:48px;top:339.50px">0.301072164</div>
<div class="xl-c" style="left:240.0px;width:48px;top:339.50px">0.928879559</div>
<div class="xl-c" style="left:283.0px;width:48px;top:339.50px">0.584313159</div>
<div class="xl-c" style="left:26px;width:38.60000000000002px;top:348.90px;font-size:6.95px">8/30/15</div>
<div class="xl-c" style="left:67.2px;width:48px;top:348.90px">0.493691175</div>
<div class="xl-c" style="left:110.3px;width:48px;top:348.90px">0.581561642</div>
<div class="xl-c" style="left:153.4px;width:48px;top:348.90px">0.913963511</div>
<div class="xl-c" style="left:196.5px;width:48px;top:348.90px">0.202614066</div>
<div class="xl-c" style="left:240.0px;width:48px;top:348.90px">0.190712381</div>
<div class="xl-c" style="left:283.0px;width:48px;top:348.90px">0.589432972</div>
<div class="xl-c" style="left:26px;width:38.60000000000002px;top:358.30px;font-size:6.95px">8/31/15</div>
<div class="xl-c" style="left:67.2px;width:48px;top:358.30px">0.475044117</div>
<div class="xl-c" style="left:110.3px;width:48px;top:358.30px">1.295144581</div>
<div class="xl-c" style="left:153.4px;width:48px;top:358.30px">1.106610415</div>
<div class="xl-c" style="left:196.5px;width:48px;top:358.30px">0.795579115</div>
<div class="xl-c" style="left:240.0px;width:48px;top:358.30px">1.149172887</div>
<div class="xl-c" style="left:283.0px;width:48px;top:358.30px">1.401044149</div>
</div>
</div></body></html>
